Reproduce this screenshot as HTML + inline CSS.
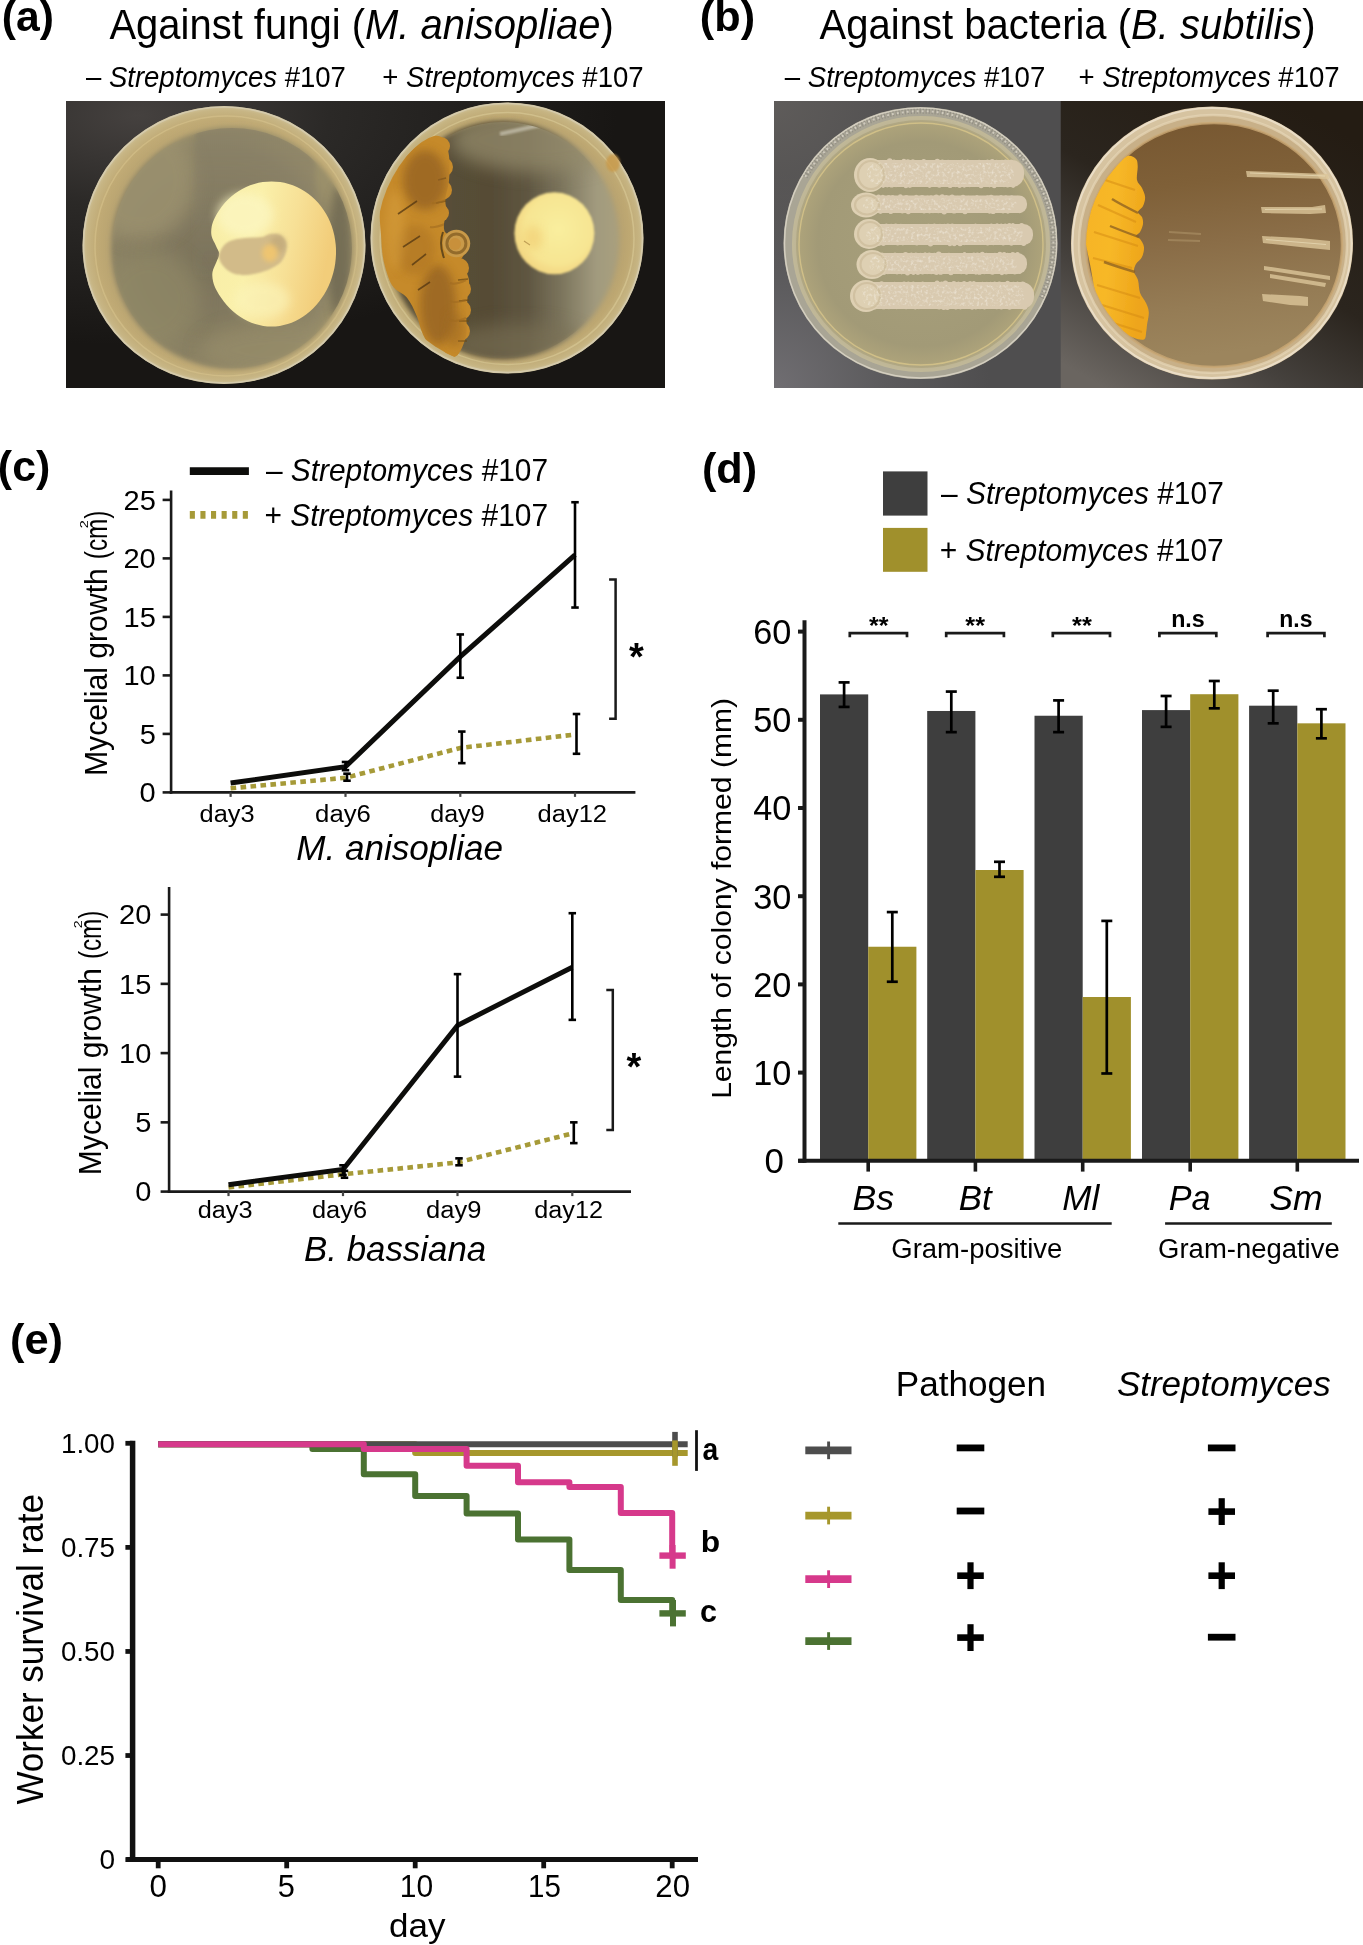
<!DOCTYPE html>
<html><head><meta charset="utf-8"><title>Figure</title>
<style>
html,body{margin:0;padding:0;background:#fff;}
body{width:1363px;height:1945px;overflow:hidden;}
svg{display:block;font-family:"Liberation Sans", sans-serif;will-change:transform;}
</style></head><body>
<svg width="1363" height="1945" viewBox="0 0 1363 1945">
<rect x="0" y="0" width="1363" height="1945" fill="#ffffff"/>
<defs>
<filter id="b05" x="-20%" y="-20%" width="140%" height="140%"><feGaussianBlur stdDeviation="0.6"/></filter>
<filter id="b1" x="-20%" y="-20%" width="140%" height="140%"><feGaussianBlur stdDeviation="1.2"/></filter>
<filter id="b2" x="-20%" y="-20%" width="140%" height="140%"><feGaussianBlur stdDeviation="2.5"/></filter>
<filter id="b4" x="-30%" y="-30%" width="160%" height="160%"><feGaussianBlur stdDeviation="5"/></filter>
<filter id="b8" x="-40%" y="-40%" width="180%" height="180%"><feGaussianBlur stdDeviation="9"/></filter>
<filter id="grain" x="0" y="0" width="100%" height="100%">
  <feTurbulence type="fractalNoise" baseFrequency="0.35" numOctaves="2" seed="3" result="n"/>
  <feColorMatrix in="n" type="matrix" values="0 0 0 0 0.97  0 0 0 0 0.95  0 0 0 0 0.9  0 0 0 2.2 -1.05" result="c"/>
  <feComposite in="c" in2="SourceGraphic" operator="in"/>
</filter>
<radialGradient id="bgA" cx="0.12" cy="0.05" r="0.8">
  <stop offset="0" stop-color="#45413f"/><stop offset="0.4" stop-color="#2b2927"/><stop offset="1" stop-color="#181614"/>
</radialGradient>
<radialGradient id="agarA1" cx="0.42" cy="0.55" r="0.55">
  <stop offset="0" stop-color="#7a725a"/><stop offset="0.5" stop-color="#847b60"/><stop offset="0.85" stop-color="#8d8466"/><stop offset="1" stop-color="#9a8f6a"/>
</radialGradient>
<linearGradient id="agarA2" x1="0" y1="0" x2="1" y2="0">
  <stop offset="0" stop-color="#5a5038"/><stop offset="0.45" stop-color="#564c36"/><stop offset="0.6" stop-color="#5e5540"/><stop offset="0.75" stop-color="#7b745c"/><stop offset="0.9" stop-color="#a19a7e"/><stop offset="1" stop-color="#a9a07e"/>
</linearGradient>
<linearGradient id="colA" x1="0" y1="0" x2="1" y2="0.25">
  <stop offset="0" stop-color="#f8eda6"/><stop offset="0.4" stop-color="#faf0aa"/><stop offset="0.7" stop-color="#f7e096"/><stop offset="1" stop-color="#f2cd7a"/>
</linearGradient>
<radialGradient id="colA2" cx="0.55" cy="0.45" r="0.6">
  <stop offset="0" stop-color="#f9ee9e"/><stop offset="0.7" stop-color="#f7e592"/><stop offset="1" stop-color="#f1d37e"/>
</radialGradient>
<linearGradient id="orA" x1="0" y1="0" x2="1" y2="0">
  <stop offset="0" stop-color="#b98528"/><stop offset="0.45" stop-color="#956219"/><stop offset="0.75" stop-color="#a8721f"/><stop offset="1" stop-color="#bb8a30"/>
</linearGradient>
<radialGradient id="bgB1" cx="0.0" cy="1.0" r="0.75">
  <stop offset="0" stop-color="#706e72"/><stop offset="0.5" stop-color="#5c5b5d"/><stop offset="1" stop-color="#4f4e4f"/>
</radialGradient>
<radialGradient id="bgB1b" cx="0.0" cy="0.0" r="0.6">
  <stop offset="0" stop-color="#605d5b" stop-opacity="0.9"/><stop offset="1" stop-color="#605d5b" stop-opacity="0"/>
</radialGradient>
<radialGradient id="agarB1" cx="0.5" cy="0.5" r="0.5">
  <stop offset="0" stop-color="#a8a07c"/><stop offset="0.8" stop-color="#a29a77"/><stop offset="0.93" stop-color="#aca27a"/><stop offset="1" stop-color="#b5ad8e"/>
</radialGradient>
<linearGradient id="agarB2" x1="0" y1="0" x2="0.15" y2="1">
  <stop offset="0" stop-color="#765630"/><stop offset="0.3" stop-color="#7f6038"/><stop offset="0.55" stop-color="#8a6d47"/><stop offset="0.8" stop-color="#957c55"/><stop offset="1" stop-color="#9c855d"/>
</linearGradient>
<linearGradient id="bgB2" x1="0.75" y1="0" x2="0.15" y2="1">
  <stop offset="0" stop-color="#241c13"/><stop offset="0.45" stop-color="#2b251e"/><stop offset="0.72" stop-color="#45413d"/><stop offset="1" stop-color="#6a6560"/>
</linearGradient>
<linearGradient id="orB" x1="0" y1="0" x2="1" y2="0.3">
  <stop offset="0" stop-color="#f6b323"/><stop offset="0.5" stop-color="#f7b828"/><stop offset="1" stop-color="#eea51a"/>
</linearGradient>
<radialGradient id="rimA" cx="0.5" cy="0.5" r="0.5"><stop offset="0.75" stop-color="#b4a070"/><stop offset="0.9" stop-color="#c0aa74"/><stop offset="0.97" stop-color="#c7b584"/><stop offset="1" stop-color="#cfc29a"/></radialGradient>
<radialGradient id="rimA2" cx="0.5" cy="0.5" r="0.5"><stop offset="0.75" stop-color="#b09c6e"/><stop offset="0.9" stop-color="#bea872"/><stop offset="0.97" stop-color="#c6b482"/><stop offset="1" stop-color="#cfc29a"/></radialGradient>
<linearGradient id="fadeA" x1="0" y1="0" x2="0" y2="1"><stop offset="0" stop-color="#857d66" stop-opacity="0.7"/><stop offset="0.5" stop-color="#857d66" stop-opacity="0.35"/><stop offset="1" stop-color="#857d66" stop-opacity="0"/></linearGradient>
<clipPath id="clipA"><rect x="66" y="101" width="599" height="287"/></clipPath>
<clipPath id="clipB1"><rect x="774" y="101" width="288" height="287"/></clipPath>
<clipPath id="clipB2"><rect x="1060.5" y="101" width="302.5" height="287"/></clipPath>
<clipPath id="dishA2"><ellipse cx="508" cy="238.5" rx="131" ry="130"/></clipPath>
<clipPath id="dishA1in"><ellipse cx="232" cy="248" rx="120" ry="120"/></clipPath>
<clipPath id="dishA2in"><ellipse cx="503" cy="240" rx="115" ry="118"/></clipPath>
<clipPath id="dishB2"><ellipse cx="1214" cy="245" rx="128" ry="122"/></clipPath>
</defs>
<g clip-path="url(#clipA)">
<rect x="66.00" y="101.00" width="599.00" height="287.50" fill="url(#bgA)"/>
<ellipse cx="224" cy="245" rx="141.5" ry="139" fill="url(#rimA)" filter="url(#b05)"/>
<ellipse cx="224" cy="245" rx="140.5" ry="138" fill="none" stroke="#d6cdb0" stroke-width="1.6" opacity="0.85"/>
<ellipse cx="226" cy="246" rx="131" ry="130" fill="none" stroke="#d9c58e" stroke-width="1.5" opacity="0.55"/>
<ellipse cx="232" cy="248" rx="121" ry="121" fill="url(#agarA1)" filter="url(#b2)"/>
<g clip-path="url(#dishA1in)">
<ellipse cx="140" cy="180" rx="55" ry="60" fill="#9c9270" opacity="0.8" filter="url(#b8)"/>
<ellipse cx="150" cy="300" rx="50" ry="50" fill="#928a68" opacity="0.6" filter="url(#b8)"/>
<rect x="195" y="110" width="120" height="170" fill="url(#fadeA)" filter="url(#b2)"/>
<ellipse cx="280" cy="350" rx="80" ry="28" fill="#978d6b" opacity="0.7" filter="url(#b8)"/>
<ellipse cx="340" cy="255" rx="12" ry="70" fill="#5f5a48" opacity="0.6" filter="url(#b4)"/>
</g>
<path d="M 336.0 254.0 C 335.9 257.2 335.6 260.3 335.2 263.5 C 334.8 266.6 334.1 269.7 333.3 272.8 C 332.5 275.8 331.5 278.8 330.4 281.7 C 329.3 284.7 328.0 287.5 326.5 290.2 C 325.1 293.0 323.5 295.6 321.7 298.1 C 320.0 300.6 318.1 303.0 316.1 305.3 C 314.2 307.5 312.0 309.6 309.8 311.5 C 307.6 313.4 305.3 315.2 302.9 316.8 C 300.5 318.4 298.0 319.8 295.5 321.0 C 293.0 322.2 290.3 323.2 287.7 324.0 C 285.1 324.8 282.4 325.5 279.7 325.9 C 277.0 326.3 274.2 326.5 271.5 326.5 C 268.8 326.5 266.0 326.3 263.3 325.9 C 260.6 325.5 257.9 324.8 255.3 324.0 C 252.7 323.2 250.0 322.2 247.5 321.0 C 245.0 319.8 242.5 318.4 240.1 316.8 C 237.7 315.2 235.4 313.4 233.2 311.5 C 231.0 309.6 228.8 307.5 226.9 305.3 C 224.9 303.0 223.0 300.6 221.3 298.1 C 219.5 295.6 217.9 293.0 216.5 290.2 C 215.1 287.5 213.7 284.6 213.1 281.5 C 212.4 278.5 212.0 275.1 212.5 271.9 C 213.1 268.7 215.2 265.2 216.3 262.2 C 217.4 259.2 219.3 256.7 219.3 254.0 C 219.2 251.3 217.1 248.8 215.9 245.8 C 214.6 242.8 212.3 239.3 211.6 236.1 C 210.9 232.9 211.2 229.5 211.7 226.5 C 212.2 223.4 213.6 220.5 214.8 217.8 C 216.1 215.0 217.7 212.4 219.4 209.9 C 221.1 207.4 222.9 205.0 224.9 202.7 C 226.9 200.5 229.1 198.4 231.3 196.5 C 233.5 194.6 235.9 192.8 238.4 191.2 C 240.9 189.6 243.5 188.2 246.1 187.0 C 248.8 185.8 251.5 184.8 254.3 184.0 C 257.1 183.2 260.0 182.5 262.8 182.1 C 265.7 181.7 268.6 181.5 271.5 181.5 C 274.4 181.5 277.3 181.7 280.2 182.1 C 283.0 182.5 285.9 183.2 288.7 184.0 C 291.5 184.8 294.2 185.8 296.9 187.0 C 299.5 188.2 302.1 189.6 304.6 191.2 C 307.1 192.8 309.5 194.6 311.7 196.5 C 313.9 198.4 316.1 200.5 318.1 202.7 C 320.1 205.0 321.9 207.4 323.6 209.9 C 325.3 212.4 326.8 215.0 328.2 217.7 C 329.6 220.5 330.8 223.3 331.8 226.3 C 332.8 229.2 333.6 232.2 334.3 235.2 C 334.9 238.3 335.4 241.4 335.7 244.5 C 336.0 247.7 336.1 250.8 336.0 254.0 Z" fill="url(#colA)" filter="url(#b05)"/>
<ellipse cx="245" cy="215" rx="28" ry="22" fill="#fcf7c4" opacity="0.7" filter="url(#b4)"/>
<ellipse cx="262" cy="300" rx="28" ry="18" fill="#fbf4bb" opacity="0.6" filter="url(#b4)"/>
<path d="M 219.0 258.0 C 218.5 254.7 220.2 250.8 222.0 248.0 C 223.8 245.2 226.2 242.7 230.0 241.0 C 233.8 239.3 239.7 238.7 245.0 238.0 C 250.3 237.3 257.8 237.7 262.0 237.0 C 266.2 236.3 267.0 234.3 270.0 234.0 C 273.0 233.7 277.3 233.7 280.0 235.0 C 282.7 236.3 285.0 239.2 286.0 242.0 C 287.0 244.8 286.8 248.7 286.0 252.0 C 285.2 255.3 283.3 259.3 281.0 262.0 C 278.7 264.7 275.2 266.3 272.0 268.0 C 268.8 269.7 266.0 270.8 262.0 272.0 C 258.0 273.2 252.5 274.7 248.0 275.0 C 243.5 275.3 238.8 275.2 235.0 274.0 C 231.2 272.8 227.7 270.7 225.0 268.0 C 222.3 265.3 219.5 261.3 219.0 258.0 Z" fill="#d2bb89" filter="url(#b1)"/>
<ellipse cx="278" cy="244" rx="8" ry="9" fill="#c0a878" opacity="0.7" filter="url(#b2)"/>
<ellipse cx="270" cy="253" rx="8" ry="9" fill="#f2c66e" opacity="0.9" filter="url(#b2)"/>
<ellipse cx="507" cy="238" rx="136.5" ry="135.5" fill="url(#rimA2)" filter="url(#b05)"/>
<ellipse cx="507" cy="238" rx="135.5" ry="134.5" fill="none" stroke="#d6cdb0" stroke-width="1.6" opacity="0.85"/>
<ellipse cx="507" cy="238.5" rx="127" ry="126" fill="none" stroke="#dccd9a" stroke-width="1.5" opacity="0.55"/>
<ellipse cx="503" cy="240" rx="116" ry="119" fill="url(#agarA2)" filter="url(#b2)"/>
<g clip-path="url(#dishA2in)">
<ellipse cx="540" cy="140" rx="90" ry="32" fill="#948b6c" opacity="0.75" filter="url(#b8)"/>
<ellipse cx="520" cy="345" rx="70" ry="22" fill="#7c7256" opacity="0.6" filter="url(#b8)"/>
<path d="M 500 134 L 545 124" stroke="#d8d4c4" stroke-width="4" opacity="0.6" filter="url(#b1)"/>
</g>
<ellipse cx="613" cy="163" rx="7" ry="9" fill="#c99a48" opacity="0.8" filter="url(#b1)"/>
<g clip-path="url(#dishA2)">
<path d="M 434.2 136.1 C 438.5 135.2 441.5 136.5 444.0 139.8 C 446.5 143.1 448.2 149.0 449.0 155.8 C 449.8 162.6 449.6 173.3 449.0 180.5 C 448.4 187.7 445.7 193.8 445.3 199.0 C 444.9 204.2 446.7 207.3 446.5 211.4 C 446.3 215.5 444.2 220.3 444.0 223.7 C 443.8 227.1 443.7 229.9 445.0 232.0 C 446.3 234.1 449.2 234.7 452.0 236.0 C 454.8 237.3 459.7 237.7 462.0 240.0 C 464.3 242.3 466.0 247.0 466.0 250.0 C 466.0 253.0 462.8 256.2 462.0 258.0 C 461.2 259.8 460.3 257.2 461.4 260.7 C 462.5 264.2 467.8 273.0 468.8 279.2 C 469.8 285.4 467.9 291.5 467.5 297.7 C 467.1 303.9 466.5 310.0 466.3 316.2 C 466.1 322.4 467.5 328.5 466.3 334.7 C 465.1 340.9 461.6 349.5 458.9 353.2 C 456.2 356.9 454.3 357.4 450.2 357.0 C 446.1 356.6 438.7 354.5 434.2 350.8 C 429.7 347.1 426.0 340.5 423.1 334.7 C 420.2 328.9 419.6 322.4 416.9 316.2 C 414.2 310.0 411.1 302.8 407.0 297.7 C 402.9 292.6 396.1 291.6 392.2 285.4 C 388.3 279.2 385.5 268.9 383.6 260.7 C 381.8 252.5 381.7 244.2 381.1 236.0 C 380.5 227.8 379.3 219.6 379.9 211.4 C 380.5 203.2 381.3 194.9 384.8 186.7 C 388.3 178.5 395.4 168.9 400.9 162.0 C 406.4 155.1 412.4 149.3 418.0 145.0 C 423.6 140.7 429.9 137.0 434.2 136.1 Z" fill="#c68a2b" filter="url(#b05)"/>
<circle cx="441" cy="146" r="9" fill="#c68a2b" filter="url(#b05)"/>
<circle cx="443" cy="167" r="10" fill="#c68a2b" filter="url(#b05)"/>
<circle cx="442" cy="190" r="10" fill="#c68a2b" filter="url(#b05)"/>
<circle cx="440" cy="213" r="9" fill="#c68a2b" filter="url(#b05)"/>
<circle cx="459" cy="268" r="10" fill="#c68a2b" filter="url(#b05)"/>
<circle cx="461" cy="289" r="10" fill="#c68a2b" filter="url(#b05)"/>
<circle cx="461" cy="310" r="10" fill="#c68a2b" filter="url(#b05)"/>
<circle cx="460" cy="331" r="10" fill="#c68a2b" filter="url(#b05)"/>
<circle cx="452" cy="349" r="8" fill="#c68a2b" filter="url(#b05)"/>
<path d="M 446 178 L 438 180 M 446 201 L 436 203 M 468 279 L 458 280 M 469 300 L 459 301 M 469 321 L 459 321 M 467 341 L 458 341" stroke="#6a4814" stroke-width="1.6" fill="none" opacity="0.7"/>
<clipPath id="orclip"><path d="M 434.2 136.1 C 438.5 135.2 441.5 136.5 444.0 139.8 C 446.5 143.1 448.2 149.0 449.0 155.8 C 449.8 162.6 449.6 173.3 449.0 180.5 C 448.4 187.7 445.7 193.8 445.3 199.0 C 444.9 204.2 446.7 207.3 446.5 211.4 C 446.3 215.5 444.2 220.3 444.0 223.7 C 443.8 227.1 443.7 229.9 445.0 232.0 C 446.3 234.1 449.2 234.7 452.0 236.0 C 454.8 237.3 459.7 237.7 462.0 240.0 C 464.3 242.3 466.0 247.0 466.0 250.0 C 466.0 253.0 462.8 256.2 462.0 258.0 C 461.2 259.8 460.3 257.2 461.4 260.7 C 462.5 264.2 467.8 273.0 468.8 279.2 C 469.8 285.4 467.9 291.5 467.5 297.7 C 467.1 303.9 466.5 310.0 466.3 316.2 C 466.1 322.4 467.5 328.5 466.3 334.7 C 465.1 340.9 461.6 349.5 458.9 353.2 C 456.2 356.9 454.3 357.4 450.2 357.0 C 446.1 356.6 438.7 354.5 434.2 350.8 C 429.7 347.1 426.0 340.5 423.1 334.7 C 420.2 328.9 419.6 322.4 416.9 316.2 C 414.2 310.0 411.1 302.8 407.0 297.7 C 402.9 292.6 396.1 291.6 392.2 285.4 C 388.3 279.2 385.5 268.9 383.6 260.7 C 381.8 252.5 381.7 244.2 381.1 236.0 C 380.5 227.8 379.3 219.6 379.9 211.4 C 380.5 203.2 381.3 194.9 384.8 186.7 C 388.3 178.5 395.4 168.9 400.9 162.0 C 406.4 155.1 412.4 149.3 418.0 145.0 C 423.6 140.7 429.9 137.0 434.2 136.1 Z"/></clipPath>
<g clip-path="url(#orclip)">
<ellipse cx="425" cy="180" rx="22" ry="30" fill="#8f5d22" opacity="0.70" filter="url(#b4)"/>
<ellipse cx="438" cy="305" rx="18" ry="40" fill="#8a5a20" opacity="0.65" filter="url(#b4)"/>
<ellipse cx="415" cy="250" rx="20" ry="25" fill="#a87024" opacity="0.50" filter="url(#b4)"/>
<ellipse cx="395" cy="230" rx="10" ry="40" fill="#d8a040" opacity="0.50" filter="url(#b4)"/>
<ellipse cx="455" cy="330" rx="10" ry="18" fill="#9a6624" opacity="0.50" filter="url(#b4)"/>
<path d="M 398 214 L 417 201 M 403 247 L 420 236 M 412 265 L 426 254 M 418 290 L 430 282" stroke="#4a3010" stroke-width="1.6" fill="none" opacity="0.7"/>
<path d="M 446 200 C 440 202 436 204 432 203 M 445 224 C 440 226 435 228 430 227 M 466 280 C 460 283 455 285 450 283 M 466 300 C 460 302 455 303 450 301 M 466 318 C 460 321 455 322 450 320" stroke="#a06a20" stroke-width="2" fill="none" opacity="0.6"/>
</g>
</g>
<circle cx="456.4" cy="243.5" r="13.8" fill="#c99a48" filter="url(#b05)"/>
<circle cx="456.4" cy="243.5" r="9.5" fill="none" stroke="#8a6428" stroke-width="3" opacity="0.85" filter="url(#b05)"/>
<circle cx="455" cy="244" r="6" fill="#c8903a" filter="url(#b05)"/>
<path d="M 443 232 C 440 240 441 250 444 258" stroke="#4e3a18" stroke-width="2" fill="none" opacity="0.8"/>
<ellipse cx="554.4" cy="233.3" rx="40" ry="41" fill="url(#colA2)" filter="url(#b1)"/>
<path d="M 524 241 L 530 245" stroke="#8a6a30" stroke-width="1.2" opacity="0.7"/>
<ellipse cx="533" cy="238" rx="10" ry="12" fill="#f0c86c" opacity="0.5" filter="url(#b4)"/>
</g>
<g clip-path="url(#clipB1)">
<rect x="774.00" y="101.00" width="288.00" height="287.50" fill="url(#bgB1)"/>
<rect x="774.00" y="101.00" width="288.00" height="287.50" fill="url(#bgB1b)"/>
<ellipse cx="920.5" cy="243" rx="137" ry="136" fill="#a9a595" filter="url(#b05)"/>
<ellipse cx="920.5" cy="243" rx="136" ry="135" fill="none" stroke="#d8d3c4" stroke-width="1.5" opacity="0.9"/>
<path d="M 805.3 177 A 133 132 0 0 1 1041 298.8" fill="none" stroke="#8e8b82" stroke-width="5" stroke-dasharray="1.2 1.8" opacity="0.8"/>
<path d="M 805.3 177 A 133 132 0 0 1 1041 298.8" fill="none" stroke="#e2ddd0" stroke-width="2" stroke-dasharray="2 3" opacity="0.7"/>
<ellipse cx="921" cy="244" rx="129" ry="128" fill="url(#agarB1)"/>
<ellipse cx="921" cy="244" rx="122" ry="121" fill="none" stroke="#d8c689" stroke-width="1.4" opacity="0.8"/>
<ellipse cx="921" cy="244" rx="127" ry="126" fill="none" stroke="#c8c0a0" stroke-width="4" opacity="0.6"/>
<g filter="url(#b05)"><rect x="861.0" y="160.0" width="163.0" height="27.0" rx="12.3" fill="#d9cab0"/><circle cx="869.0" cy="161.2" r="2.0" fill="#d9cab0"/><circle cx="871.0" cy="185.0" r="2.0" fill="#d9cab0"/><circle cx="872.7" cy="161.5" r="2.2" fill="#d9cab0"/><circle cx="874.7" cy="185.9" r="2.2" fill="#d9cab0"/><circle cx="877.4" cy="161.7" r="1.6" fill="#d9cab0"/><circle cx="879.4" cy="185.9" r="1.6" fill="#d9cab0"/><circle cx="881.2" cy="162.2" r="2.1" fill="#d9cab0"/><circle cx="883.2" cy="185.8" r="2.1" fill="#d9cab0"/><circle cx="885.2" cy="162.4" r="2.4" fill="#d9cab0"/><circle cx="887.2" cy="185.1" r="2.4" fill="#d9cab0"/><circle cx="889.7" cy="161.1" r="2.8" fill="#d9cab0"/><circle cx="891.7" cy="184.7" r="2.8" fill="#d9cab0"/><circle cx="894.0" cy="161.2" r="1.8" fill="#d9cab0"/><circle cx="896.0" cy="185.5" r="1.8" fill="#d9cab0"/><circle cx="899.5" cy="161.9" r="1.8" fill="#d9cab0"/><circle cx="901.5" cy="185.0" r="1.8" fill="#d9cab0"/><circle cx="903.9" cy="161.1" r="2.3" fill="#d9cab0"/><circle cx="905.9" cy="185.9" r="2.3" fill="#d9cab0"/><circle cx="907.9" cy="161.6" r="2.4" fill="#d9cab0"/><circle cx="909.9" cy="185.5" r="2.4" fill="#d9cab0"/><circle cx="912.9" cy="161.4" r="2.1" fill="#d9cab0"/><circle cx="914.9" cy="184.8" r="2.1" fill="#d9cab0"/><circle cx="918.1" cy="161.9" r="1.9" fill="#d9cab0"/><circle cx="920.1" cy="185.2" r="1.9" fill="#d9cab0"/><circle cx="923.8" cy="161.4" r="2.5" fill="#d9cab0"/><circle cx="925.8" cy="184.5" r="2.5" fill="#d9cab0"/><circle cx="927.6" cy="162.1" r="2.1" fill="#d9cab0"/><circle cx="929.6" cy="185.8" r="2.1" fill="#d9cab0"/><circle cx="932.4" cy="162.0" r="1.6" fill="#d9cab0"/><circle cx="934.4" cy="184.9" r="1.6" fill="#d9cab0"/><circle cx="937.3" cy="161.5" r="2.7" fill="#d9cab0"/><circle cx="939.3" cy="185.0" r="2.7" fill="#d9cab0"/><circle cx="942.3" cy="161.7" r="2.3" fill="#d9cab0"/><circle cx="944.3" cy="184.7" r="2.3" fill="#d9cab0"/><circle cx="948.1" cy="162.0" r="2.2" fill="#d9cab0"/><circle cx="950.1" cy="185.9" r="2.2" fill="#d9cab0"/><circle cx="953.4" cy="162.5" r="2.4" fill="#d9cab0"/><circle cx="955.4" cy="184.8" r="2.4" fill="#d9cab0"/><circle cx="957.6" cy="162.0" r="2.1" fill="#d9cab0"/><circle cx="959.6" cy="186.0" r="2.1" fill="#d9cab0"/><circle cx="962.3" cy="161.2" r="1.8" fill="#d9cab0"/><circle cx="964.3" cy="185.9" r="1.8" fill="#d9cab0"/><circle cx="967.7" cy="161.4" r="1.8" fill="#d9cab0"/><circle cx="969.7" cy="185.4" r="1.8" fill="#d9cab0"/><circle cx="973.4" cy="161.7" r="1.7" fill="#d9cab0"/><circle cx="975.4" cy="185.2" r="1.7" fill="#d9cab0"/><circle cx="979.1" cy="162.3" r="2.6" fill="#d9cab0"/><circle cx="981.1" cy="185.6" r="2.6" fill="#d9cab0"/><circle cx="983.6" cy="162.3" r="2.0" fill="#d9cab0"/><circle cx="985.6" cy="184.6" r="2.0" fill="#d9cab0"/><circle cx="987.5" cy="161.3" r="1.8" fill="#d9cab0"/><circle cx="989.5" cy="185.6" r="1.8" fill="#d9cab0"/><circle cx="992.2" cy="161.4" r="2.3" fill="#d9cab0"/><circle cx="994.2" cy="186.0" r="2.3" fill="#d9cab0"/><circle cx="996.7" cy="161.8" r="2.0" fill="#d9cab0"/><circle cx="998.7" cy="184.6" r="2.0" fill="#d9cab0"/><circle cx="1002.0" cy="161.9" r="2.2" fill="#d9cab0"/><circle cx="1004.0" cy="185.0" r="2.2" fill="#d9cab0"/><circle cx="1005.6" cy="162.2" r="2.7" fill="#d9cab0"/><circle cx="1007.6" cy="184.7" r="2.7" fill="#d9cab0"/><circle cx="1011.1" cy="161.6" r="2.1" fill="#d9cab0"/><circle cx="1013.1" cy="185.8" r="2.1" fill="#d9cab0"/><ellipse cx="870.0" cy="175.0" rx="16.0" ry="17.0" fill="#ded0b3"/><ellipse cx="871.0" cy="175.0" rx="13.0" ry="14.0" fill="none" stroke="#cdbd9c" stroke-width="2.2" opacity="0.8"/></g>
<rect x="867.0" y="163.0" width="147.0" height="21.0" rx="9.5" fill="#fff" filter="url(#grain)" opacity="0.55"/>
<g filter="url(#b05)"><rect x="857.0" y="195.5" width="170.0" height="17.5" rx="8.0" fill="#d9cab0"/><circle cx="865.0" cy="196.6" r="1.7" fill="#d9cab0"/><circle cx="867.0" cy="211.7" r="1.7" fill="#d9cab0"/><circle cx="868.9" cy="196.6" r="2.0" fill="#d9cab0"/><circle cx="870.9" cy="212.0" r="2.0" fill="#d9cab0"/><circle cx="872.8" cy="197.0" r="1.7" fill="#d9cab0"/><circle cx="874.8" cy="212.0" r="1.7" fill="#d9cab0"/><circle cx="878.5" cy="196.7" r="2.3" fill="#d9cab0"/><circle cx="880.5" cy="211.6" r="2.3" fill="#d9cab0"/><circle cx="882.8" cy="196.7" r="2.0" fill="#d9cab0"/><circle cx="884.8" cy="210.7" r="2.0" fill="#d9cab0"/><circle cx="888.8" cy="197.2" r="2.2" fill="#d9cab0"/><circle cx="890.8" cy="211.9" r="2.2" fill="#d9cab0"/><circle cx="892.6" cy="196.9" r="2.0" fill="#d9cab0"/><circle cx="894.6" cy="210.8" r="2.0" fill="#d9cab0"/><circle cx="896.5" cy="197.9" r="1.6" fill="#d9cab0"/><circle cx="898.5" cy="211.2" r="1.6" fill="#d9cab0"/><circle cx="900.3" cy="196.5" r="2.3" fill="#d9cab0"/><circle cx="902.3" cy="211.2" r="2.3" fill="#d9cab0"/><circle cx="906.3" cy="197.5" r="2.6" fill="#d9cab0"/><circle cx="908.3" cy="211.6" r="2.6" fill="#d9cab0"/><circle cx="910.7" cy="197.7" r="1.8" fill="#d9cab0"/><circle cx="912.7" cy="211.2" r="1.8" fill="#d9cab0"/><circle cx="916.2" cy="196.8" r="2.0" fill="#d9cab0"/><circle cx="918.2" cy="210.8" r="2.0" fill="#d9cab0"/><circle cx="922.1" cy="197.7" r="2.6" fill="#d9cab0"/><circle cx="924.1" cy="210.8" r="2.6" fill="#d9cab0"/><circle cx="927.5" cy="197.3" r="1.9" fill="#d9cab0"/><circle cx="929.5" cy="211.5" r="1.9" fill="#d9cab0"/><circle cx="931.0" cy="196.9" r="1.6" fill="#d9cab0"/><circle cx="933.0" cy="211.6" r="1.6" fill="#d9cab0"/><circle cx="936.3" cy="197.2" r="2.7" fill="#d9cab0"/><circle cx="938.3" cy="210.6" r="2.7" fill="#d9cab0"/><circle cx="942.2" cy="197.0" r="2.7" fill="#d9cab0"/><circle cx="944.2" cy="211.7" r="2.7" fill="#d9cab0"/><circle cx="946.3" cy="196.8" r="1.8" fill="#d9cab0"/><circle cx="948.3" cy="211.1" r="1.8" fill="#d9cab0"/><circle cx="952.1" cy="197.2" r="2.6" fill="#d9cab0"/><circle cx="954.1" cy="211.0" r="2.6" fill="#d9cab0"/><circle cx="957.6" cy="197.5" r="1.7" fill="#d9cab0"/><circle cx="959.6" cy="210.6" r="1.7" fill="#d9cab0"/><circle cx="963.0" cy="197.2" r="2.5" fill="#d9cab0"/><circle cx="965.0" cy="211.7" r="2.5" fill="#d9cab0"/><circle cx="968.5" cy="197.7" r="2.0" fill="#d9cab0"/><circle cx="970.5" cy="210.5" r="2.0" fill="#d9cab0"/><circle cx="973.0" cy="197.9" r="2.1" fill="#d9cab0"/><circle cx="975.0" cy="210.9" r="2.1" fill="#d9cab0"/><circle cx="976.9" cy="196.7" r="1.8" fill="#d9cab0"/><circle cx="978.9" cy="210.6" r="1.8" fill="#d9cab0"/><circle cx="982.4" cy="197.7" r="1.8" fill="#d9cab0"/><circle cx="984.4" cy="210.5" r="1.8" fill="#d9cab0"/><circle cx="987.6" cy="197.3" r="2.0" fill="#d9cab0"/><circle cx="989.6" cy="211.8" r="2.0" fill="#d9cab0"/><circle cx="991.1" cy="197.5" r="2.8" fill="#d9cab0"/><circle cx="993.1" cy="211.2" r="2.8" fill="#d9cab0"/><circle cx="996.9" cy="197.8" r="2.1" fill="#d9cab0"/><circle cx="998.9" cy="210.8" r="2.1" fill="#d9cab0"/><circle cx="1001.0" cy="196.9" r="1.9" fill="#d9cab0"/><circle cx="1003.0" cy="211.6" r="1.9" fill="#d9cab0"/><circle cx="1005.9" cy="197.1" r="1.9" fill="#d9cab0"/><circle cx="1007.9" cy="211.8" r="1.9" fill="#d9cab0"/><circle cx="1011.7" cy="197.2" r="2.0" fill="#d9cab0"/><circle cx="1013.7" cy="211.1" r="2.0" fill="#d9cab0"/><circle cx="1017.5" cy="197.9" r="2.1" fill="#d9cab0"/><circle cx="1019.5" cy="211.2" r="2.1" fill="#d9cab0"/><ellipse cx="866.0" cy="205.0" rx="15.0" ry="12.5" fill="#ded0b3"/><ellipse cx="867.0" cy="205.0" rx="12.0" ry="9.5" fill="none" stroke="#cdbd9c" stroke-width="2.2" opacity="0.8"/></g>
<rect x="863.0" y="198.5" width="154.0" height="11.5" rx="5.2" fill="#fff" filter="url(#grain)" opacity="0.55"/>
<g filter="url(#b05)"><rect x="860.0" y="224.0" width="173.0" height="21.0" rx="9.5" fill="#d9cab0"/><circle cx="868.0" cy="225.0" r="2.2" fill="#d9cab0"/><circle cx="870.0" cy="243.3" r="2.2" fill="#d9cab0"/><circle cx="872.0" cy="226.2" r="1.6" fill="#d9cab0"/><circle cx="874.0" cy="243.7" r="1.6" fill="#d9cab0"/><circle cx="876.6" cy="225.8" r="2.5" fill="#d9cab0"/><circle cx="878.6" cy="243.5" r="2.5" fill="#d9cab0"/><circle cx="881.4" cy="226.2" r="2.3" fill="#d9cab0"/><circle cx="883.4" cy="243.8" r="2.3" fill="#d9cab0"/><circle cx="886.3" cy="225.4" r="1.9" fill="#d9cab0"/><circle cx="888.3" cy="242.8" r="1.9" fill="#d9cab0"/><circle cx="891.1" cy="226.1" r="2.3" fill="#d9cab0"/><circle cx="893.1" cy="242.6" r="2.3" fill="#d9cab0"/><circle cx="895.7" cy="225.8" r="2.3" fill="#d9cab0"/><circle cx="897.7" cy="243.2" r="2.3" fill="#d9cab0"/><circle cx="900.9" cy="225.8" r="2.1" fill="#d9cab0"/><circle cx="902.9" cy="243.3" r="2.1" fill="#d9cab0"/><circle cx="906.8" cy="226.3" r="2.4" fill="#d9cab0"/><circle cx="908.8" cy="242.6" r="2.4" fill="#d9cab0"/><circle cx="911.0" cy="226.4" r="2.3" fill="#d9cab0"/><circle cx="913.0" cy="242.7" r="2.3" fill="#d9cab0"/><circle cx="914.8" cy="225.7" r="1.7" fill="#d9cab0"/><circle cx="916.8" cy="243.9" r="1.7" fill="#d9cab0"/><circle cx="918.9" cy="226.0" r="1.7" fill="#d9cab0"/><circle cx="920.9" cy="242.8" r="1.7" fill="#d9cab0"/><circle cx="924.6" cy="226.1" r="1.8" fill="#d9cab0"/><circle cx="926.6" cy="243.0" r="1.8" fill="#d9cab0"/><circle cx="928.5" cy="226.5" r="2.7" fill="#d9cab0"/><circle cx="930.5" cy="243.7" r="2.7" fill="#d9cab0"/><circle cx="934.4" cy="225.7" r="2.1" fill="#d9cab0"/><circle cx="936.4" cy="242.5" r="2.1" fill="#d9cab0"/><circle cx="940.0" cy="225.6" r="1.8" fill="#d9cab0"/><circle cx="942.0" cy="243.2" r="1.8" fill="#d9cab0"/><circle cx="944.3" cy="225.5" r="1.8" fill="#d9cab0"/><circle cx="946.3" cy="242.9" r="1.8" fill="#d9cab0"/><circle cx="947.9" cy="225.7" r="2.3" fill="#d9cab0"/><circle cx="949.9" cy="244.0" r="2.3" fill="#d9cab0"/><circle cx="952.2" cy="225.8" r="2.3" fill="#d9cab0"/><circle cx="954.2" cy="243.9" r="2.3" fill="#d9cab0"/><circle cx="958.1" cy="226.5" r="2.5" fill="#d9cab0"/><circle cx="960.1" cy="243.8" r="2.5" fill="#d9cab0"/><circle cx="962.3" cy="226.2" r="1.6" fill="#d9cab0"/><circle cx="964.3" cy="243.6" r="1.6" fill="#d9cab0"/><circle cx="966.1" cy="226.4" r="2.1" fill="#d9cab0"/><circle cx="968.1" cy="242.8" r="2.1" fill="#d9cab0"/><circle cx="970.3" cy="226.4" r="1.8" fill="#d9cab0"/><circle cx="972.3" cy="243.1" r="1.8" fill="#d9cab0"/><circle cx="975.5" cy="225.1" r="1.7" fill="#d9cab0"/><circle cx="977.5" cy="243.0" r="1.7" fill="#d9cab0"/><circle cx="980.1" cy="226.4" r="1.7" fill="#d9cab0"/><circle cx="982.1" cy="243.0" r="1.7" fill="#d9cab0"/><circle cx="985.6" cy="226.3" r="1.7" fill="#d9cab0"/><circle cx="987.6" cy="243.9" r="1.7" fill="#d9cab0"/><circle cx="991.3" cy="225.5" r="2.1" fill="#d9cab0"/><circle cx="993.3" cy="243.2" r="2.1" fill="#d9cab0"/><circle cx="997.1" cy="225.2" r="1.9" fill="#d9cab0"/><circle cx="999.1" cy="243.2" r="1.9" fill="#d9cab0"/><circle cx="1001.2" cy="225.2" r="1.7" fill="#d9cab0"/><circle cx="1003.2" cy="243.9" r="1.7" fill="#d9cab0"/><circle cx="1005.2" cy="225.5" r="2.0" fill="#d9cab0"/><circle cx="1007.2" cy="242.9" r="2.0" fill="#d9cab0"/><circle cx="1009.4" cy="225.3" r="2.2" fill="#d9cab0"/><circle cx="1011.4" cy="243.5" r="2.2" fill="#d9cab0"/><circle cx="1012.9" cy="225.0" r="1.9" fill="#d9cab0"/><circle cx="1014.9" cy="242.9" r="1.9" fill="#d9cab0"/><circle cx="1017.8" cy="225.7" r="1.8" fill="#d9cab0"/><circle cx="1019.8" cy="242.6" r="1.8" fill="#d9cab0"/><circle cx="1021.6" cy="225.6" r="2.6" fill="#d9cab0"/><circle cx="1023.6" cy="243.3" r="2.6" fill="#d9cab0"/><ellipse cx="869.0" cy="234.0" rx="15.0" ry="15.0" fill="#ded0b3"/><ellipse cx="870.0" cy="234.0" rx="12.0" ry="12.0" fill="none" stroke="#cdbd9c" stroke-width="2.2" opacity="0.8"/></g>
<rect x="866.0" y="227.0" width="157.0" height="15.0" rx="6.8" fill="#fff" filter="url(#grain)" opacity="0.55"/>
<g filter="url(#b05)"><rect x="863.0" y="253.0" width="164.0" height="21.0" rx="9.5" fill="#d9cab0"/><circle cx="871.0" cy="254.8" r="2.1" fill="#d9cab0"/><circle cx="873.0" cy="272.0" r="2.1" fill="#d9cab0"/><circle cx="877.0" cy="255.2" r="2.0" fill="#d9cab0"/><circle cx="879.0" cy="271.9" r="2.0" fill="#d9cab0"/><circle cx="882.0" cy="254.5" r="2.1" fill="#d9cab0"/><circle cx="884.0" cy="272.9" r="2.1" fill="#d9cab0"/><circle cx="885.9" cy="255.1" r="1.7" fill="#d9cab0"/><circle cx="887.9" cy="272.6" r="1.7" fill="#d9cab0"/><circle cx="889.8" cy="255.3" r="1.7" fill="#d9cab0"/><circle cx="891.8" cy="271.7" r="1.7" fill="#d9cab0"/><circle cx="895.0" cy="254.4" r="1.9" fill="#d9cab0"/><circle cx="897.0" cy="272.6" r="1.9" fill="#d9cab0"/><circle cx="899.6" cy="254.7" r="1.8" fill="#d9cab0"/><circle cx="901.6" cy="272.6" r="1.8" fill="#d9cab0"/><circle cx="905.5" cy="254.8" r="2.8" fill="#d9cab0"/><circle cx="907.5" cy="272.6" r="2.8" fill="#d9cab0"/><circle cx="911.4" cy="254.5" r="2.0" fill="#d9cab0"/><circle cx="913.4" cy="273.0" r="2.0" fill="#d9cab0"/><circle cx="915.9" cy="254.8" r="2.2" fill="#d9cab0"/><circle cx="917.9" cy="272.7" r="2.2" fill="#d9cab0"/><circle cx="920.6" cy="254.4" r="1.6" fill="#d9cab0"/><circle cx="922.6" cy="272.9" r="1.6" fill="#d9cab0"/><circle cx="925.1" cy="254.0" r="1.7" fill="#d9cab0"/><circle cx="927.1" cy="272.5" r="1.7" fill="#d9cab0"/><circle cx="929.2" cy="254.8" r="2.3" fill="#d9cab0"/><circle cx="931.2" cy="271.9" r="2.3" fill="#d9cab0"/><circle cx="934.4" cy="255.3" r="2.5" fill="#d9cab0"/><circle cx="936.4" cy="272.4" r="2.5" fill="#d9cab0"/><circle cx="938.7" cy="254.2" r="2.8" fill="#d9cab0"/><circle cx="940.7" cy="271.9" r="2.8" fill="#d9cab0"/><circle cx="943.8" cy="255.3" r="1.7" fill="#d9cab0"/><circle cx="945.8" cy="271.7" r="1.7" fill="#d9cab0"/><circle cx="948.9" cy="255.2" r="2.5" fill="#d9cab0"/><circle cx="950.9" cy="272.8" r="2.5" fill="#d9cab0"/><circle cx="953.7" cy="255.3" r="2.2" fill="#d9cab0"/><circle cx="955.7" cy="271.8" r="2.2" fill="#d9cab0"/><circle cx="959.2" cy="255.3" r="2.3" fill="#d9cab0"/><circle cx="961.2" cy="272.0" r="2.3" fill="#d9cab0"/><circle cx="964.5" cy="254.0" r="1.9" fill="#d9cab0"/><circle cx="966.5" cy="272.8" r="1.9" fill="#d9cab0"/><circle cx="968.9" cy="255.3" r="1.7" fill="#d9cab0"/><circle cx="970.9" cy="272.2" r="1.7" fill="#d9cab0"/><circle cx="973.9" cy="255.0" r="2.4" fill="#d9cab0"/><circle cx="975.9" cy="272.3" r="2.4" fill="#d9cab0"/><circle cx="977.4" cy="255.1" r="2.6" fill="#d9cab0"/><circle cx="979.4" cy="272.2" r="2.6" fill="#d9cab0"/><circle cx="982.3" cy="254.1" r="2.4" fill="#d9cab0"/><circle cx="984.3" cy="271.9" r="2.4" fill="#d9cab0"/><circle cx="986.4" cy="254.4" r="1.7" fill="#d9cab0"/><circle cx="988.4" cy="271.9" r="1.7" fill="#d9cab0"/><circle cx="990.4" cy="255.5" r="2.5" fill="#d9cab0"/><circle cx="992.4" cy="272.3" r="2.5" fill="#d9cab0"/><circle cx="994.9" cy="255.0" r="2.2" fill="#d9cab0"/><circle cx="996.9" cy="271.8" r="2.2" fill="#d9cab0"/><circle cx="999.9" cy="254.1" r="2.4" fill="#d9cab0"/><circle cx="1001.9" cy="272.8" r="2.4" fill="#d9cab0"/><circle cx="1004.1" cy="254.5" r="2.5" fill="#d9cab0"/><circle cx="1006.1" cy="272.1" r="2.5" fill="#d9cab0"/><circle cx="1007.6" cy="254.4" r="1.7" fill="#d9cab0"/><circle cx="1009.6" cy="272.0" r="1.7" fill="#d9cab0"/><circle cx="1012.8" cy="254.4" r="2.4" fill="#d9cab0"/><circle cx="1014.8" cy="272.2" r="2.4" fill="#d9cab0"/><circle cx="1017.5" cy="254.2" r="2.2" fill="#d9cab0"/><circle cx="1019.5" cy="271.7" r="2.2" fill="#d9cab0"/><ellipse cx="872.0" cy="264.5" rx="15.5" ry="14.5" fill="#ded0b3"/><ellipse cx="873.0" cy="264.5" rx="12.5" ry="11.5" fill="none" stroke="#cdbd9c" stroke-width="2.2" opacity="0.8"/></g>
<rect x="869.0" y="256.0" width="148.0" height="15.0" rx="6.8" fill="#fff" filter="url(#grain)" opacity="0.55"/>
<g filter="url(#b05)"><rect x="856.0" y="282.0" width="178.0" height="27.0" rx="12.3" fill="#d9cab0"/><circle cx="864.0" cy="284.4" r="2.8" fill="#d9cab0"/><circle cx="866.0" cy="308.0" r="2.8" fill="#d9cab0"/><circle cx="868.6" cy="284.5" r="2.6" fill="#d9cab0"/><circle cx="870.6" cy="307.3" r="2.6" fill="#d9cab0"/><circle cx="872.8" cy="284.4" r="1.9" fill="#d9cab0"/><circle cx="874.8" cy="307.7" r="1.9" fill="#d9cab0"/><circle cx="877.8" cy="283.8" r="1.8" fill="#d9cab0"/><circle cx="879.8" cy="306.6" r="1.8" fill="#d9cab0"/><circle cx="881.6" cy="283.8" r="2.6" fill="#d9cab0"/><circle cx="883.6" cy="306.7" r="2.6" fill="#d9cab0"/><circle cx="886.9" cy="284.3" r="1.9" fill="#d9cab0"/><circle cx="888.9" cy="307.3" r="1.9" fill="#d9cab0"/><circle cx="890.4" cy="283.7" r="1.6" fill="#d9cab0"/><circle cx="892.4" cy="307.3" r="1.6" fill="#d9cab0"/><circle cx="894.7" cy="283.5" r="1.8" fill="#d9cab0"/><circle cx="896.7" cy="307.5" r="1.8" fill="#d9cab0"/><circle cx="900.3" cy="284.1" r="1.6" fill="#d9cab0"/><circle cx="902.3" cy="306.7" r="1.6" fill="#d9cab0"/><circle cx="904.1" cy="284.1" r="2.7" fill="#d9cab0"/><circle cx="906.1" cy="306.6" r="2.7" fill="#d9cab0"/><circle cx="908.3" cy="283.6" r="2.0" fill="#d9cab0"/><circle cx="910.3" cy="306.5" r="2.0" fill="#d9cab0"/><circle cx="913.3" cy="283.6" r="2.0" fill="#d9cab0"/><circle cx="915.3" cy="307.6" r="2.0" fill="#d9cab0"/><circle cx="916.9" cy="284.3" r="1.7" fill="#d9cab0"/><circle cx="918.9" cy="307.6" r="1.7" fill="#d9cab0"/><circle cx="922.7" cy="283.4" r="1.9" fill="#d9cab0"/><circle cx="924.7" cy="307.2" r="1.9" fill="#d9cab0"/><circle cx="926.7" cy="284.4" r="2.0" fill="#d9cab0"/><circle cx="928.7" cy="306.7" r="2.0" fill="#d9cab0"/><circle cx="932.2" cy="284.4" r="2.4" fill="#d9cab0"/><circle cx="934.2" cy="306.6" r="2.4" fill="#d9cab0"/><circle cx="937.1" cy="283.1" r="2.5" fill="#d9cab0"/><circle cx="939.1" cy="306.9" r="2.5" fill="#d9cab0"/><circle cx="941.7" cy="284.0" r="2.5" fill="#d9cab0"/><circle cx="943.7" cy="307.6" r="2.5" fill="#d9cab0"/><circle cx="945.4" cy="283.2" r="2.7" fill="#d9cab0"/><circle cx="947.4" cy="307.3" r="2.7" fill="#d9cab0"/><circle cx="949.7" cy="284.1" r="2.0" fill="#d9cab0"/><circle cx="951.7" cy="306.5" r="2.0" fill="#d9cab0"/><circle cx="953.9" cy="283.5" r="2.4" fill="#d9cab0"/><circle cx="955.9" cy="307.2" r="2.4" fill="#d9cab0"/><circle cx="958.4" cy="283.2" r="1.8" fill="#d9cab0"/><circle cx="960.4" cy="307.7" r="1.8" fill="#d9cab0"/><circle cx="964.1" cy="283.3" r="2.2" fill="#d9cab0"/><circle cx="966.1" cy="306.6" r="2.2" fill="#d9cab0"/><circle cx="970.1" cy="283.2" r="2.1" fill="#d9cab0"/><circle cx="972.1" cy="307.7" r="2.1" fill="#d9cab0"/><circle cx="973.8" cy="283.1" r="2.0" fill="#d9cab0"/><circle cx="975.8" cy="307.6" r="2.0" fill="#d9cab0"/><circle cx="978.0" cy="284.3" r="2.3" fill="#d9cab0"/><circle cx="980.0" cy="306.9" r="2.3" fill="#d9cab0"/><circle cx="982.5" cy="283.8" r="2.1" fill="#d9cab0"/><circle cx="984.5" cy="307.4" r="2.1" fill="#d9cab0"/><circle cx="986.9" cy="283.4" r="1.7" fill="#d9cab0"/><circle cx="988.9" cy="306.5" r="1.7" fill="#d9cab0"/><circle cx="990.7" cy="283.9" r="2.2" fill="#d9cab0"/><circle cx="992.7" cy="306.7" r="2.2" fill="#d9cab0"/><circle cx="994.7" cy="283.4" r="1.9" fill="#d9cab0"/><circle cx="996.7" cy="307.4" r="1.9" fill="#d9cab0"/><circle cx="999.3" cy="284.3" r="2.7" fill="#d9cab0"/><circle cx="1001.3" cy="306.7" r="2.7" fill="#d9cab0"/><circle cx="1002.9" cy="284.1" r="1.6" fill="#d9cab0"/><circle cx="1004.9" cy="306.7" r="1.6" fill="#d9cab0"/><circle cx="1007.6" cy="283.0" r="2.3" fill="#d9cab0"/><circle cx="1009.6" cy="307.4" r="2.3" fill="#d9cab0"/><circle cx="1013.4" cy="284.3" r="2.6" fill="#d9cab0"/><circle cx="1015.4" cy="306.5" r="2.6" fill="#d9cab0"/><circle cx="1017.5" cy="283.2" r="1.7" fill="#d9cab0"/><circle cx="1019.5" cy="307.2" r="1.7" fill="#d9cab0"/><circle cx="1022.7" cy="284.1" r="2.7" fill="#d9cab0"/><circle cx="1024.7" cy="307.0" r="2.7" fill="#d9cab0"/><ellipse cx="866.0" cy="296.0" rx="16.0" ry="16.0" fill="#ded0b3"/><ellipse cx="867.0" cy="296.0" rx="13.0" ry="13.0" fill="none" stroke="#cdbd9c" stroke-width="2.2" opacity="0.8"/></g>
<rect x="862.0" y="285.0" width="162.0" height="21.0" rx="9.5" fill="#fff" filter="url(#grain)" opacity="0.55"/>
</g>
<g clip-path="url(#clipB2)">
<rect x="1060.50" y="101.00" width="302.50" height="287.50" fill="url(#bgB2)"/>
<ellipse cx="1212" cy="243" rx="141" ry="136.5" fill="#d6c3a0" filter="url(#b05)"/>
<ellipse cx="1212" cy="243" rx="139.5" ry="135" fill="none" stroke="#efe4cf" stroke-width="2" opacity="0.8"/>
<ellipse cx="1213" cy="244" rx="134" ry="129" fill="#c8b088"/>
<ellipse cx="1213" cy="244" rx="134" ry="129" fill="none" stroke="#e6d6b6" stroke-width="2.5" opacity="0.7"/>
<ellipse cx="1214" cy="245" rx="128" ry="122" fill="url(#agarB2)"/>
<ellipse cx="1214" cy="245" rx="128" ry="122" fill="none" stroke="#c9a874" stroke-width="2.5" opacity="0.8"/>
<g clip-path="url(#dishB2)">
<path d="M 1129.0 155.8 C 1131.3 155.6 1134.5 157.3 1136.0 159.0 C 1137.5 160.7 1137.5 162.5 1137.7 166.0 C 1137.9 169.5 1136.3 176.3 1137.0 180.0 C 1137.7 183.7 1140.7 185.2 1142.0 188.0 C 1143.3 190.8 1144.9 194.0 1145.1 197.0 C 1145.3 200.0 1144.2 203.5 1143.0 206.0 C 1141.8 208.5 1138.2 210.2 1138.0 212.0 C 1137.8 213.8 1141.2 215.0 1142.0 217.0 C 1142.8 219.0 1143.3 221.5 1143.0 224.0 C 1142.7 226.5 1141.2 230.0 1140.0 232.0 C 1138.8 234.0 1136.0 234.8 1136.0 236.0 C 1136.0 237.2 1138.7 237.2 1140.0 239.0 C 1141.3 240.8 1143.7 244.0 1144.0 247.0 C 1144.3 250.0 1143.3 254.2 1142.0 257.0 C 1140.7 259.8 1137.3 261.6 1136.0 264.0 C 1134.7 266.4 1133.7 269.0 1134.0 271.7 C 1134.3 274.4 1137.0 276.5 1138.0 280.0 C 1139.0 283.5 1138.7 288.9 1140.0 292.7 C 1141.3 296.5 1144.5 299.7 1146.0 303.0 C 1147.5 306.3 1148.6 308.7 1148.8 312.4 C 1149.0 316.1 1147.4 321.9 1147.0 325.0 C 1146.6 328.1 1146.8 328.6 1146.3 331.0 C 1145.8 333.4 1146.3 338.6 1143.9 339.6 C 1141.5 340.6 1135.7 338.6 1132.0 337.0 C 1128.3 335.4 1125.9 333.0 1121.7 329.7 C 1117.5 326.4 1111.2 323.6 1106.9 317.4 C 1102.6 311.2 1098.5 300.9 1095.8 292.7 C 1093.1 284.5 1092.4 276.2 1090.8 268.0 C 1089.2 259.8 1086.9 249.9 1085.9 243.3 C 1084.9 236.7 1084.1 234.7 1084.7 228.5 C 1085.3 222.3 1087.5 212.9 1089.6 206.3 C 1091.6 199.7 1093.3 194.8 1097.0 189.0 C 1100.7 183.2 1107.6 176.6 1111.8 171.8 C 1116.0 167.0 1119.1 162.7 1122.0 160.0 C 1124.9 157.3 1126.7 156.0 1129.0 155.8 Z" fill="url(#orB)" filter="url(#b05)"/>
<path d="M 1105 180 L 1135 190 M 1098 205 L 1136 222 M 1094 232 L 1138 246 M 1093 258 L 1132 268 M 1097 285 L 1140 298 M 1102 305 L 1144 318 M 1110 322 L 1142 332" stroke="#d48a12" stroke-width="2" fill="none" opacity="0.5"/>
<path d="M 1112 199 C 1120 204 1130 209 1138 213 M 1110 226 C 1120 230 1130 234 1139 237 M 1104 262 C 1115 266 1125 269 1135 272" stroke="#8a5e22" stroke-width="2.4" fill="none" opacity="0.75" filter="url(#b05)"/>
</g>
<path d="M 1246 171 L 1328 174 L 1329 179 L 1247 177 Z" fill="#dcc69a" opacity="0.8" filter="url(#b05)"/>
<path d="M 1261 207 L 1312 207 L 1325 205 L 1326 213 L 1310 214 L 1262 213 Z" fill="#dcc69a" opacity="0.8" filter="url(#b05)"/>
<path d="M 1262 236 L 1300 238 L 1330 241 L 1330 250 L 1300 247 L 1263 243 Z" fill="#dcc69a" opacity="0.8" filter="url(#b05)"/>
<path d="M 1264 266 L 1330 276 L 1330 280 L 1264 270 Z" fill="#dcc69a" opacity="0.8" filter="url(#b05)"/>
<path d="M 1270 274 L 1326 283 L 1325 287 L 1270 278 Z" fill="#dcc69a" opacity="0.8" filter="url(#b05)"/>
<path d="M 1262 294 L 1300 296 L 1308 297 L 1308 306 L 1290 305 L 1263 301 Z" fill="#dcc69a" opacity="0.8" filter="url(#b05)"/>
<path d="M 1250 173 L 1325 176 M 1265 209.5 L 1322 209 M 1266 239.5 L 1326 244.5" stroke="#efe2c0" stroke-width="1" fill="none" opacity="0.6"/>
<path d="M 1169 232 L 1201 234 M 1168 240 L 1200 241" stroke="#b49a6e" stroke-width="2" opacity="0.5" filter="url(#b05)"/>
</g>
<text x="1.87" y="31.10" font-size="43.00" textLength="52.15" lengthAdjust="spacingAndGlyphs" fill="#000"><tspan font-weight="bold">(a)</tspan></text>
<text x="699.85" y="31.10" font-size="43.00" textLength="55.21" lengthAdjust="spacingAndGlyphs" fill="#000"><tspan font-weight="bold">(b)</tspan></text>
<text x="-2.14" y="481.40" font-size="43.00" textLength="52.48" lengthAdjust="spacingAndGlyphs" fill="#000"><tspan font-weight="bold">(c)</tspan></text>
<text x="701.95" y="483.20" font-size="43.00" textLength="55.21" lengthAdjust="spacingAndGlyphs" fill="#000"><tspan font-weight="bold">(d)</tspan></text>
<text x="9.93" y="1354.00" font-size="43.00" textLength="53.13" lengthAdjust="spacingAndGlyphs" fill="#000"><tspan font-weight="bold">(e)</tspan></text>
<text x="109.42" y="38.70" font-size="41.60" textLength="504.46" lengthAdjust="spacingAndGlyphs" fill="#000"><tspan>Against fungi (</tspan><tspan font-style="italic">M. anisopliae</tspan><tspan>)</tspan></text>
<text x="819.62" y="38.90" font-size="41.60" textLength="496.06" lengthAdjust="spacingAndGlyphs" fill="#000"><tspan>Against bacteria (</tspan><tspan font-style="italic">B. subtilis</tspan><tspan>)</tspan></text>
<text x="86.00" y="87.30" font-size="30.00" textLength="259.88" lengthAdjust="spacingAndGlyphs" fill="#000"><tspan>– </tspan><tspan font-style="italic">Streptomyces</tspan><tspan> #107</tspan></text>
<text x="382.35" y="87.30" font-size="30.00" textLength="261.33" lengthAdjust="spacingAndGlyphs" fill="#000"><tspan>+ </tspan><tspan font-style="italic">Streptomyces</tspan><tspan> #107</tspan></text>
<text x="784.80" y="87.30" font-size="30.00" textLength="260.49" lengthAdjust="spacingAndGlyphs" fill="#000"><tspan>– </tspan><tspan font-style="italic">Streptomyces</tspan><tspan> #107</tspan></text>
<text x="1078.55" y="87.30" font-size="30.00" textLength="261.13" lengthAdjust="spacingAndGlyphs" fill="#000"><tspan>+ </tspan><tspan font-style="italic">Streptomyces</tspan><tspan> #107</tspan></text>
<line x1="189.80" y1="471.20" x2="248.90" y2="471.20" stroke="#0d0d0b" stroke-width="7.80" stroke-linecap="butt"/>
<line x1="189.80" y1="514.90" x2="250.00" y2="514.90" stroke="#a69a38" stroke-width="7.60" stroke-linecap="butt" stroke-dasharray="5.1 5.5"/>
<text x="265.90" y="480.60" font-size="32.00" textLength="282.20" lengthAdjust="spacingAndGlyphs" fill="#000"><tspan>– </tspan><tspan font-style="italic">Streptomyces</tspan><tspan> #107</tspan></text>
<text x="264.44" y="525.50" font-size="32.00" textLength="283.67" lengthAdjust="spacingAndGlyphs" fill="#000"><tspan>+ </tspan><tspan font-style="italic">Streptomyces</tspan><tspan> #107</tspan></text>
<line x1="171.10" y1="490.50" x2="171.10" y2="793.70" stroke="#1a1a1a" stroke-width="2.60" stroke-linecap="butt"/>
<line x1="169.80" y1="792.40" x2="635.40" y2="792.40" stroke="#1a1a1a" stroke-width="2.60" stroke-linecap="butt"/>
<line x1="162.60" y1="792.40" x2="171.10" y2="792.40" stroke="#1a1a1a" stroke-width="2.60" stroke-linecap="butt"/>
<line x1="162.60" y1="733.90" x2="171.10" y2="733.90" stroke="#1a1a1a" stroke-width="2.60" stroke-linecap="butt"/>
<line x1="162.60" y1="675.40" x2="171.10" y2="675.40" stroke="#1a1a1a" stroke-width="2.60" stroke-linecap="butt"/>
<line x1="162.60" y1="616.90" x2="171.10" y2="616.90" stroke="#1a1a1a" stroke-width="2.60" stroke-linecap="butt"/>
<line x1="162.60" y1="558.40" x2="171.10" y2="558.40" stroke="#1a1a1a" stroke-width="2.60" stroke-linecap="butt"/>
<line x1="162.60" y1="499.90" x2="171.10" y2="499.90" stroke="#1a1a1a" stroke-width="2.60" stroke-linecap="butt"/>
<line x1="230.60" y1="792.40" x2="230.60" y2="796.90" stroke="#444" stroke-width="2.20" stroke-linecap="butt"/>
<line x1="345.50" y1="792.40" x2="345.50" y2="796.90" stroke="#444" stroke-width="2.20" stroke-linecap="butt"/>
<line x1="460.30" y1="792.40" x2="460.30" y2="796.90" stroke="#444" stroke-width="2.20" stroke-linecap="butt"/>
<line x1="575.00" y1="792.40" x2="575.00" y2="796.90" stroke="#444" stroke-width="2.20" stroke-linecap="butt"/>
<text x="139.58" y="802.10" font-size="28.20" textLength="16.15" lengthAdjust="spacingAndGlyphs" fill="#000"><tspan>0</tspan></text>
<text x="139.67" y="743.60" font-size="28.20" textLength="16.15" lengthAdjust="spacingAndGlyphs" fill="#000"><tspan>5</tspan></text>
<text x="123.43" y="685.10" font-size="28.20" textLength="32.31" lengthAdjust="spacingAndGlyphs" fill="#000"><tspan>10</tspan></text>
<text x="123.51" y="626.60" font-size="28.20" textLength="32.31" lengthAdjust="spacingAndGlyphs" fill="#000"><tspan>15</tspan></text>
<text x="123.43" y="568.10" font-size="28.20" textLength="32.31" lengthAdjust="spacingAndGlyphs" fill="#000"><tspan>20</tspan></text>
<text x="123.51" y="509.60" font-size="28.20" textLength="32.31" lengthAdjust="spacingAndGlyphs" fill="#000"><tspan>25</tspan></text>
<polyline points="230.60,788.30 345.50,777.77 460.30,747.94 575.00,734.49" fill="none" stroke="#a69a38" stroke-width="4.60" stroke-linejoin="miter" stroke-linecap="butt" stroke-dasharray="5.6 4.4"/>
<polyline points="230.60,783.04 345.50,766.66 460.30,656.68 575.00,554.89" fill="none" stroke="#0d0d0b" stroke-width="5.00" stroke-linejoin="miter" stroke-linecap="butt"/>
<line x1="345.50" y1="761.98" x2="345.50" y2="770.17" stroke="#000" stroke-width="2.60" stroke-linecap="butt"/>
<line x1="341.75" y1="761.98" x2="349.25" y2="761.98" stroke="#000" stroke-width="2.60" stroke-linecap="butt"/>
<line x1="341.75" y1="770.17" x2="349.25" y2="770.17" stroke="#000" stroke-width="2.60" stroke-linecap="butt"/>
<line x1="460.30" y1="634.45" x2="460.30" y2="677.74" stroke="#000" stroke-width="2.60" stroke-linecap="butt"/>
<line x1="456.55" y1="634.45" x2="464.05" y2="634.45" stroke="#000" stroke-width="2.60" stroke-linecap="butt"/>
<line x1="456.55" y1="677.74" x2="464.05" y2="677.74" stroke="#000" stroke-width="2.60" stroke-linecap="butt"/>
<line x1="575.00" y1="502.24" x2="575.00" y2="607.54" stroke="#000" stroke-width="2.60" stroke-linecap="butt"/>
<line x1="571.25" y1="502.24" x2="578.75" y2="502.24" stroke="#000" stroke-width="2.60" stroke-linecap="butt"/>
<line x1="571.25" y1="607.54" x2="578.75" y2="607.54" stroke="#000" stroke-width="2.60" stroke-linecap="butt"/>
<line x1="347.00" y1="773.68" x2="347.00" y2="780.70" stroke="#000" stroke-width="2.60" stroke-linecap="butt"/>
<line x1="343.25" y1="773.68" x2="350.75" y2="773.68" stroke="#000" stroke-width="2.60" stroke-linecap="butt"/>
<line x1="343.25" y1="780.70" x2="350.75" y2="780.70" stroke="#000" stroke-width="2.60" stroke-linecap="butt"/>
<line x1="461.80" y1="731.56" x2="461.80" y2="763.15" stroke="#000" stroke-width="2.60" stroke-linecap="butt"/>
<line x1="458.05" y1="731.56" x2="465.55" y2="731.56" stroke="#000" stroke-width="2.60" stroke-linecap="butt"/>
<line x1="458.05" y1="763.15" x2="465.55" y2="763.15" stroke="#000" stroke-width="2.60" stroke-linecap="butt"/>
<line x1="576.50" y1="714.01" x2="576.50" y2="753.79" stroke="#000" stroke-width="2.60" stroke-linecap="butt"/>
<line x1="572.75" y1="714.01" x2="580.25" y2="714.01" stroke="#000" stroke-width="2.60" stroke-linecap="butt"/>
<line x1="572.75" y1="753.79" x2="580.25" y2="753.79" stroke="#000" stroke-width="2.60" stroke-linecap="butt"/>
<polyline points="609.10,579.60 615.60,579.60 615.60,718.80 609.10,718.80" fill="none" stroke="#1a1a1a" stroke-width="2.50" stroke-linejoin="miter" stroke-linecap="butt"/>
<text x="636.4" y="669.7" font-size="38" font-weight="bold" text-anchor="middle">*</text>
<text x="199.53" y="821.90" font-size="24.70" textLength="55.08" lengthAdjust="spacingAndGlyphs" fill="#000"><tspan>day3</tspan></text>
<text x="315.12" y="821.90" font-size="24.70" textLength="55.81" lengthAdjust="spacingAndGlyphs" fill="#000"><tspan>day6</tspan></text>
<text x="430.25" y="821.90" font-size="24.70" textLength="54.34" lengthAdjust="spacingAndGlyphs" fill="#000"><tspan>day9</tspan></text>
<text x="537.53" y="821.90" font-size="24.70" textLength="69.56" lengthAdjust="spacingAndGlyphs" fill="#000"><tspan>day12</tspan></text>
<text x="296.22" y="860.40" font-size="34.30" textLength="206.78" lengthAdjust="spacingAndGlyphs" fill="#000"><tspan font-style="italic">M. anisopliae</tspan></text>
<text transform="translate(106.70,0) rotate(-90)" x="-776.08" y="0" font-size="30.80" textLength="207.93" lengthAdjust="spacingAndGlyphs" fill="#000"><tspan>Mycelial growth</tspan></text>
<text transform="translate(106.70,0) rotate(-90)" x="-559.21" y="0" font-size="30.80" textLength="48.62" lengthAdjust="spacingAndGlyphs" fill="#000"><tspan>(cm)</tspan></text>
<text transform="translate(88.00,0) rotate(-90)" x="-528.23" y="0" font-size="11.60" textLength="8.06" lengthAdjust="spacingAndGlyphs" fill="#000"><tspan>2</tspan></text>
<line x1="169.10" y1="887.10" x2="169.10" y2="1192.90" stroke="#1a1a1a" stroke-width="2.60" stroke-linecap="butt"/>
<line x1="167.80" y1="1191.60" x2="631.00" y2="1191.60" stroke="#1a1a1a" stroke-width="2.60" stroke-linecap="butt"/>
<line x1="160.60" y1="1191.60" x2="169.10" y2="1191.60" stroke="#1a1a1a" stroke-width="2.60" stroke-linecap="butt"/>
<line x1="160.60" y1="1122.35" x2="169.10" y2="1122.35" stroke="#1a1a1a" stroke-width="2.60" stroke-linecap="butt"/>
<line x1="160.60" y1="1053.10" x2="169.10" y2="1053.10" stroke="#1a1a1a" stroke-width="2.60" stroke-linecap="butt"/>
<line x1="160.60" y1="983.85" x2="169.10" y2="983.85" stroke="#1a1a1a" stroke-width="2.60" stroke-linecap="butt"/>
<line x1="160.60" y1="914.60" x2="169.10" y2="914.60" stroke="#1a1a1a" stroke-width="2.60" stroke-linecap="butt"/>
<line x1="228.50" y1="1191.60" x2="228.50" y2="1196.10" stroke="#444" stroke-width="2.20" stroke-linecap="butt"/>
<line x1="343.00" y1="1191.60" x2="343.00" y2="1196.10" stroke="#444" stroke-width="2.20" stroke-linecap="butt"/>
<line x1="457.50" y1="1191.60" x2="457.50" y2="1196.10" stroke="#444" stroke-width="2.20" stroke-linecap="butt"/>
<line x1="572.30" y1="1191.60" x2="572.30" y2="1196.10" stroke="#444" stroke-width="2.20" stroke-linecap="butt"/>
<text x="135.18" y="1201.30" font-size="28.20" textLength="16.15" lengthAdjust="spacingAndGlyphs" fill="#000"><tspan>0</tspan></text>
<text x="135.27" y="1132.05" font-size="28.20" textLength="16.15" lengthAdjust="spacingAndGlyphs" fill="#000"><tspan>5</tspan></text>
<text x="119.03" y="1062.80" font-size="28.20" textLength="32.31" lengthAdjust="spacingAndGlyphs" fill="#000"><tspan>10</tspan></text>
<text x="119.11" y="993.55" font-size="28.20" textLength="32.31" lengthAdjust="spacingAndGlyphs" fill="#000"><tspan>15</tspan></text>
<text x="119.03" y="924.30" font-size="28.20" textLength="32.31" lengthAdjust="spacingAndGlyphs" fill="#000"><tspan>20</tspan></text>
<polyline points="228.50,1187.44 343.00,1174.29 457.50,1162.51 572.30,1133.43" fill="none" stroke="#a69a38" stroke-width="4.60" stroke-linejoin="miter" stroke-linecap="butt" stroke-dasharray="5.6 4.4"/>
<polyline points="228.50,1184.67 343.00,1169.44 457.50,1025.40 572.30,967.23" fill="none" stroke="#0d0d0b" stroke-width="5.00" stroke-linejoin="miter" stroke-linecap="butt"/>
<line x1="343.00" y1="1165.28" x2="343.00" y2="1174.98" stroke="#000" stroke-width="2.60" stroke-linecap="butt"/>
<line x1="339.25" y1="1165.28" x2="346.75" y2="1165.28" stroke="#000" stroke-width="2.60" stroke-linecap="butt"/>
<line x1="339.25" y1="1174.98" x2="346.75" y2="1174.98" stroke="#000" stroke-width="2.60" stroke-linecap="butt"/>
<line x1="457.50" y1="974.15" x2="457.50" y2="1076.64" stroke="#000" stroke-width="2.60" stroke-linecap="butt"/>
<line x1="453.75" y1="974.15" x2="461.25" y2="974.15" stroke="#000" stroke-width="2.60" stroke-linecap="butt"/>
<line x1="453.75" y1="1076.64" x2="461.25" y2="1076.64" stroke="#000" stroke-width="2.60" stroke-linecap="butt"/>
<line x1="572.30" y1="913.21" x2="572.30" y2="1019.86" stroke="#000" stroke-width="2.60" stroke-linecap="butt"/>
<line x1="568.55" y1="913.21" x2="576.05" y2="913.21" stroke="#000" stroke-width="2.60" stroke-linecap="butt"/>
<line x1="568.55" y1="1019.86" x2="576.05" y2="1019.86" stroke="#000" stroke-width="2.60" stroke-linecap="butt"/>
<line x1="344.50" y1="1170.82" x2="344.50" y2="1177.75" stroke="#000" stroke-width="2.60" stroke-linecap="butt"/>
<line x1="340.75" y1="1170.82" x2="348.25" y2="1170.82" stroke="#000" stroke-width="2.60" stroke-linecap="butt"/>
<line x1="340.75" y1="1177.75" x2="348.25" y2="1177.75" stroke="#000" stroke-width="2.60" stroke-linecap="butt"/>
<line x1="459.00" y1="1158.36" x2="459.00" y2="1165.28" stroke="#000" stroke-width="2.60" stroke-linecap="butt"/>
<line x1="455.25" y1="1158.36" x2="462.75" y2="1158.36" stroke="#000" stroke-width="2.60" stroke-linecap="butt"/>
<line x1="455.25" y1="1165.28" x2="462.75" y2="1165.28" stroke="#000" stroke-width="2.60" stroke-linecap="butt"/>
<line x1="573.80" y1="1122.35" x2="573.80" y2="1143.12" stroke="#000" stroke-width="2.60" stroke-linecap="butt"/>
<line x1="570.05" y1="1122.35" x2="577.55" y2="1122.35" stroke="#000" stroke-width="2.60" stroke-linecap="butt"/>
<line x1="570.05" y1="1143.12" x2="577.55" y2="1143.12" stroke="#000" stroke-width="2.60" stroke-linecap="butt"/>
<polyline points="606.30,990.00 612.80,990.00 612.80,1130.00 606.30,1130.00" fill="none" stroke="#1a1a1a" stroke-width="2.50" stroke-linejoin="miter" stroke-linecap="butt"/>
<text x="634" y="1080" font-size="38" font-weight="bold" text-anchor="middle">*</text>
<text x="197.74" y="1217.90" font-size="24.70" textLength="54.87" lengthAdjust="spacingAndGlyphs" fill="#000"><tspan>day3</tspan></text>
<text x="311.93" y="1217.90" font-size="24.70" textLength="55.19" lengthAdjust="spacingAndGlyphs" fill="#000"><tspan>day6</tspan></text>
<text x="426.13" y="1217.90" font-size="24.70" textLength="55.28" lengthAdjust="spacingAndGlyphs" fill="#000"><tspan>day9</tspan></text>
<text x="534.34" y="1217.90" font-size="24.70" textLength="68.62" lengthAdjust="spacingAndGlyphs" fill="#000"><tspan>day12</tspan></text>
<text x="304.03" y="1261.40" font-size="35.80" textLength="182.16" lengthAdjust="spacingAndGlyphs" fill="#000"><tspan font-style="italic">B. bassiana</tspan></text>
<text transform="translate(100.70,0) rotate(-90)" x="-1175.17" y="0" font-size="32.00" textLength="207.12" lengthAdjust="spacingAndGlyphs" fill="#000"><tspan>Mycelial growth</tspan></text>
<text transform="translate(100.70,0) rotate(-90)" x="-959.10" y="0" font-size="32.00" textLength="48.51" lengthAdjust="spacingAndGlyphs" fill="#000"><tspan>(cm)</tspan></text>
<text transform="translate(82.00,0) rotate(-90)" x="-928.22" y="0" font-size="11.60" textLength="7.94" lengthAdjust="spacingAndGlyphs" fill="#000"><tspan>2</tspan></text>
<rect x="883.00" y="471.40" width="44.50" height="44.20" fill="#3e3e3e"/>
<rect x="883.00" y="527.90" width="44.50" height="43.90" fill="#a0902c"/>
<text x="941.10" y="503.70" font-size="31.80" textLength="282.70" lengthAdjust="spacingAndGlyphs" fill="#000"><tspan>– </tspan><tspan font-style="italic">Streptomyces</tspan><tspan> #107</tspan></text>
<text x="939.64" y="561.30" font-size="31.80" textLength="284.17" lengthAdjust="spacingAndGlyphs" fill="#000"><tspan>+ </tspan><tspan font-style="italic">Streptomyces</tspan><tspan> #107</tspan></text>
<rect x="820.00" y="694.40" width="48.20" height="466.40" fill="#3e3e3e"/>
<rect x="868.20" y="946.74" width="48.20" height="214.06" fill="#a0902c"/>
<rect x="927.20" y="710.98" width="48.20" height="449.82" fill="#3e3e3e"/>
<rect x="975.40" y="870.00" width="48.20" height="290.80" fill="#a0902c"/>
<rect x="1034.50" y="715.74" width="48.20" height="445.06" fill="#3e3e3e"/>
<rect x="1082.70" y="997.01" width="48.20" height="163.79" fill="#a0902c"/>
<rect x="1142.00" y="710.10" width="48.20" height="450.70" fill="#3e3e3e"/>
<rect x="1190.20" y="694.22" width="48.20" height="466.58" fill="#a0902c"/>
<rect x="1249.10" y="705.69" width="48.20" height="455.11" fill="#3e3e3e"/>
<rect x="1297.30" y="723.33" width="48.20" height="437.47" fill="#a0902c"/>
<line x1="844.10" y1="682.40" x2="844.10" y2="706.92" stroke="#000" stroke-width="2.70" stroke-linecap="butt"/>
<line x1="838.60" y1="682.40" x2="849.60" y2="682.40" stroke="#000" stroke-width="2.70" stroke-linecap="butt"/>
<line x1="838.60" y1="706.92" x2="849.60" y2="706.92" stroke="#000" stroke-width="2.70" stroke-linecap="butt"/>
<line x1="892.30" y1="912.08" x2="892.30" y2="981.75" stroke="#000" stroke-width="2.70" stroke-linecap="butt"/>
<line x1="886.80" y1="912.08" x2="897.80" y2="912.08" stroke="#000" stroke-width="2.70" stroke-linecap="butt"/>
<line x1="886.80" y1="981.75" x2="897.80" y2="981.75" stroke="#000" stroke-width="2.70" stroke-linecap="butt"/>
<line x1="951.30" y1="691.58" x2="951.30" y2="732.15" stroke="#000" stroke-width="2.70" stroke-linecap="butt"/>
<line x1="945.80" y1="691.58" x2="956.80" y2="691.58" stroke="#000" stroke-width="2.70" stroke-linecap="butt"/>
<line x1="945.80" y1="732.15" x2="956.80" y2="732.15" stroke="#000" stroke-width="2.70" stroke-linecap="butt"/>
<line x1="999.50" y1="861.80" x2="999.50" y2="876.80" stroke="#000" stroke-width="2.70" stroke-linecap="butt"/>
<line x1="994.00" y1="861.80" x2="1005.00" y2="861.80" stroke="#000" stroke-width="2.70" stroke-linecap="butt"/>
<line x1="994.00" y1="876.80" x2="1005.00" y2="876.80" stroke="#000" stroke-width="2.70" stroke-linecap="butt"/>
<line x1="1058.60" y1="700.40" x2="1058.60" y2="732.15" stroke="#000" stroke-width="2.70" stroke-linecap="butt"/>
<line x1="1053.10" y1="700.40" x2="1064.10" y2="700.40" stroke="#000" stroke-width="2.70" stroke-linecap="butt"/>
<line x1="1053.10" y1="732.15" x2="1064.10" y2="732.15" stroke="#000" stroke-width="2.70" stroke-linecap="butt"/>
<line x1="1106.80" y1="920.90" x2="1106.80" y2="1073.48" stroke="#000" stroke-width="2.70" stroke-linecap="butt"/>
<line x1="1101.30" y1="920.90" x2="1112.30" y2="920.90" stroke="#000" stroke-width="2.70" stroke-linecap="butt"/>
<line x1="1101.30" y1="1073.48" x2="1112.30" y2="1073.48" stroke="#000" stroke-width="2.70" stroke-linecap="butt"/>
<line x1="1166.10" y1="695.99" x2="1166.10" y2="726.86" stroke="#000" stroke-width="2.70" stroke-linecap="butt"/>
<line x1="1160.60" y1="695.99" x2="1171.60" y2="695.99" stroke="#000" stroke-width="2.70" stroke-linecap="butt"/>
<line x1="1160.60" y1="726.86" x2="1171.60" y2="726.86" stroke="#000" stroke-width="2.70" stroke-linecap="butt"/>
<line x1="1214.30" y1="680.99" x2="1214.30" y2="708.33" stroke="#000" stroke-width="2.70" stroke-linecap="butt"/>
<line x1="1208.80" y1="680.99" x2="1219.80" y2="680.99" stroke="#000" stroke-width="2.70" stroke-linecap="butt"/>
<line x1="1208.80" y1="708.33" x2="1219.80" y2="708.33" stroke="#000" stroke-width="2.70" stroke-linecap="butt"/>
<line x1="1273.20" y1="690.69" x2="1273.20" y2="723.33" stroke="#000" stroke-width="2.70" stroke-linecap="butt"/>
<line x1="1267.70" y1="690.69" x2="1278.70" y2="690.69" stroke="#000" stroke-width="2.70" stroke-linecap="butt"/>
<line x1="1267.70" y1="723.33" x2="1278.70" y2="723.33" stroke="#000" stroke-width="2.70" stroke-linecap="butt"/>
<line x1="1321.40" y1="709.22" x2="1321.40" y2="738.32" stroke="#000" stroke-width="2.70" stroke-linecap="butt"/>
<line x1="1315.90" y1="709.22" x2="1326.90" y2="709.22" stroke="#000" stroke-width="2.70" stroke-linecap="butt"/>
<line x1="1315.90" y1="738.32" x2="1326.90" y2="738.32" stroke="#000" stroke-width="2.70" stroke-linecap="butt"/>
<line x1="804.50" y1="620.20" x2="804.50" y2="1162.80" stroke="#1a1a1a" stroke-width="4.00" stroke-linecap="butt"/>
<line x1="798.40" y1="1160.80" x2="1359.00" y2="1160.80" stroke="#1a1a1a" stroke-width="4.00" stroke-linecap="butt"/>
<line x1="798.00" y1="1160.80" x2="804.50" y2="1160.80" stroke="#1a1a1a" stroke-width="4.00" stroke-linecap="butt"/>
<line x1="798.00" y1="1072.60" x2="804.50" y2="1072.60" stroke="#1a1a1a" stroke-width="4.00" stroke-linecap="butt"/>
<line x1="798.00" y1="984.40" x2="804.50" y2="984.40" stroke="#1a1a1a" stroke-width="4.00" stroke-linecap="butt"/>
<line x1="798.00" y1="896.20" x2="804.50" y2="896.20" stroke="#1a1a1a" stroke-width="4.00" stroke-linecap="butt"/>
<line x1="798.00" y1="808.00" x2="804.50" y2="808.00" stroke="#1a1a1a" stroke-width="4.00" stroke-linecap="butt"/>
<line x1="798.00" y1="719.80" x2="804.50" y2="719.80" stroke="#1a1a1a" stroke-width="4.00" stroke-linecap="butt"/>
<line x1="798.00" y1="631.60" x2="804.50" y2="631.60" stroke="#1a1a1a" stroke-width="4.00" stroke-linecap="butt"/>
<line x1="868.20" y1="1160.80" x2="868.20" y2="1171.60" stroke="#1a1a1a" stroke-width="3.60" stroke-linecap="butt"/>
<line x1="975.40" y1="1160.80" x2="975.40" y2="1171.60" stroke="#1a1a1a" stroke-width="3.60" stroke-linecap="butt"/>
<line x1="1082.70" y1="1160.80" x2="1082.70" y2="1171.60" stroke="#1a1a1a" stroke-width="3.60" stroke-linecap="butt"/>
<line x1="1190.20" y1="1160.80" x2="1190.20" y2="1171.60" stroke="#1a1a1a" stroke-width="3.60" stroke-linecap="butt"/>
<line x1="1297.30" y1="1160.80" x2="1297.30" y2="1171.60" stroke="#1a1a1a" stroke-width="3.60" stroke-linecap="butt"/>
<text x="764.54" y="1173.14" font-size="35.00" textLength="19.43" lengthAdjust="spacingAndGlyphs" fill="#000"><tspan>0</tspan></text>
<text x="753.19" y="1084.94" font-size="35.00" textLength="38.15" lengthAdjust="spacingAndGlyphs" fill="#000"><tspan>10</tspan></text>
<text x="753.19" y="996.74" font-size="35.00" textLength="38.15" lengthAdjust="spacingAndGlyphs" fill="#000"><tspan>20</tspan></text>
<text x="753.19" y="908.54" font-size="35.00" textLength="38.15" lengthAdjust="spacingAndGlyphs" fill="#000"><tspan>30</tspan></text>
<text x="753.19" y="820.34" font-size="35.00" textLength="38.15" lengthAdjust="spacingAndGlyphs" fill="#000"><tspan>40</tspan></text>
<text x="753.19" y="732.14" font-size="35.00" textLength="38.15" lengthAdjust="spacingAndGlyphs" fill="#000"><tspan>50</tspan></text>
<text x="753.19" y="643.94" font-size="35.00" textLength="38.15" lengthAdjust="spacingAndGlyphs" fill="#000"><tspan>60</tspan></text>
<polyline points="849.80,637.30 849.80,633.10 907.00,633.10 907.00,637.30" fill="none" stroke="#1a1a1a" stroke-width="2.70" stroke-linejoin="miter" stroke-linecap="butt"/>
<polyline points="946.20,637.30 946.20,633.10 1003.90,633.10 1003.90,637.30" fill="none" stroke="#1a1a1a" stroke-width="2.70" stroke-linejoin="miter" stroke-linecap="butt"/>
<polyline points="1052.80,637.30 1052.80,633.10 1110.00,633.10 1110.00,637.30" fill="none" stroke="#1a1a1a" stroke-width="2.70" stroke-linejoin="miter" stroke-linecap="butt"/>
<polyline points="1159.40,637.30 1159.40,633.10 1216.30,633.10 1216.30,637.30" fill="none" stroke="#1a1a1a" stroke-width="2.70" stroke-linejoin="miter" stroke-linecap="butt"/>
<polyline points="1267.60,637.30 1267.60,633.10 1324.40,633.10 1324.40,637.30" fill="none" stroke="#1a1a1a" stroke-width="2.70" stroke-linejoin="miter" stroke-linecap="butt"/>
<text x="869.10" y="634.00" font-size="24" font-weight="bold" textLength="19.50" lengthAdjust="spacingAndGlyphs">**</text>
<text x="965.30" y="634.00" font-size="24" font-weight="bold" textLength="19.70" lengthAdjust="spacingAndGlyphs">**</text>
<text x="1072.00" y="634.00" font-size="24" font-weight="bold" textLength="19.80" lengthAdjust="spacingAndGlyphs">**</text>
<text x="1171.17" y="627.00" font-size="24.70" textLength="33.59" lengthAdjust="spacingAndGlyphs" fill="#000"><tspan font-weight="bold">n.s</tspan></text>
<text x="1279.29" y="627.00" font-size="24.70" textLength="33.15" lengthAdjust="spacingAndGlyphs" fill="#000"><tspan font-weight="bold">n.s</tspan></text>
<text x="852.40" y="1209.50" font-size="35.60" textLength="41.63" lengthAdjust="spacingAndGlyphs" fill="#000"><tspan font-style="italic">Bs</tspan></text>
<text x="958.83" y="1209.50" font-size="35.60" textLength="32.86" lengthAdjust="spacingAndGlyphs" fill="#000"><tspan font-style="italic">Bt</tspan></text>
<text x="1062.22" y="1209.50" font-size="35.60" textLength="36.99" lengthAdjust="spacingAndGlyphs" fill="#000"><tspan font-style="italic">Ml</tspan></text>
<text x="1168.75" y="1209.50" font-size="35.60" textLength="41.82" lengthAdjust="spacingAndGlyphs" fill="#000"><tspan font-style="italic">Pa</tspan></text>
<text x="1269.19" y="1209.50" font-size="35.60" textLength="53.36" lengthAdjust="spacingAndGlyphs" fill="#000"><tspan font-style="italic">Sm</tspan></text>
<line x1="838.30" y1="1223.40" x2="1111.70" y2="1223.40" stroke="#1a1a1a" stroke-width="2.50" stroke-linecap="butt"/>
<line x1="1165.10" y1="1223.40" x2="1331.80" y2="1223.40" stroke="#1a1a1a" stroke-width="2.50" stroke-linecap="butt"/>
<text x="891.32" y="1257.50" font-size="28.20" textLength="171.00" lengthAdjust="spacingAndGlyphs" fill="#000"><tspan>Gram-positive</tspan></text>
<text x="1158.12" y="1257.50" font-size="28.20" textLength="181.60" lengthAdjust="spacingAndGlyphs" fill="#000"><tspan>Gram-negative</tspan></text>
<text transform="translate(731.30,0) rotate(-90)" x="-1098.87" y="0" font-size="28.20" textLength="400.83" lengthAdjust="spacingAndGlyphs" fill="#000"><tspan>Length of colony formed (mm)</tspan></text>
<polyline points="158.20,1444.30 415.20,1444.30 415.20,1452.90 687.70,1452.90" fill="none" stroke="#a6972c" stroke-width="6.00" stroke-linejoin="round" stroke-linecap="butt"/>
<polyline points="158.20,1444.30 312.40,1444.30 312.40,1449.00 363.80,1449.00 363.80,1474.20 415.20,1474.20 415.20,1495.90 466.60,1495.90 466.60,1513.60 518.00,1513.60 518.00,1539.40 569.40,1539.40 569.40,1570.10 620.80,1570.10 620.80,1600.00 672.20,1600.00 672.20,1613.40" fill="none" stroke="#4b7232" stroke-width="6.00" stroke-linejoin="round" stroke-linecap="butt"/>
<polyline points="158.20,1444.30 687.70,1444.30" fill="none" stroke="#4d4d4d" stroke-width="6.00" stroke-linejoin="round" stroke-linecap="butt"/>
<polyline points="158.20,1444.30 363.80,1444.30 363.80,1449.00 466.60,1449.00 466.60,1465.80 518.00,1465.80 518.00,1482.30 569.40,1482.30 569.40,1487.10 620.80,1487.10 620.80,1513.00 672.20,1513.00 672.20,1555.60" fill="none" stroke="#d6398b" stroke-width="6.00" stroke-linejoin="round" stroke-linecap="butt"/>
<line x1="675.00" y1="1431.90" x2="675.00" y2="1456.70" stroke="#4d4d4d" stroke-width="5.60" stroke-linecap="butt"/>
<line x1="675.00" y1="1440.40" x2="675.00" y2="1465.80" stroke="#a6972c" stroke-width="5.60" stroke-linecap="butt"/>
<line x1="659.40" y1="1555.60" x2="685.80" y2="1555.60" stroke="#d6398b" stroke-width="6.40" stroke-linecap="butt"/>
<line x1="672.60" y1="1545.00" x2="672.60" y2="1568.70" stroke="#d6398b" stroke-width="6.00" stroke-linecap="butt"/>
<line x1="659.40" y1="1613.40" x2="685.80" y2="1613.40" stroke="#4b7232" stroke-width="6.40" stroke-linecap="butt"/>
<line x1="673.00" y1="1600.00" x2="673.00" y2="1626.40" stroke="#4b7232" stroke-width="6.00" stroke-linecap="butt"/>
<line x1="696.50" y1="1430.20" x2="696.50" y2="1470.90" stroke="#111" stroke-width="2.80" stroke-linecap="butt"/>
<text x="702.47" y="1459.80" font-size="30.80" textLength="15.75" lengthAdjust="spacingAndGlyphs" fill="#000"><tspan font-weight="bold">a</tspan></text>
<text x="700.71" y="1552.00" font-size="29.30" textLength="19.40" lengthAdjust="spacingAndGlyphs" fill="#000"><tspan font-weight="bold">b</tspan></text>
<text x="699.91" y="1622.10" font-size="31.00" textLength="16.99" lengthAdjust="spacingAndGlyphs" fill="#000"><tspan font-weight="bold">c</tspan></text>
<line x1="132.60" y1="1440.80" x2="132.60" y2="1862.10" stroke="#111" stroke-width="5.50" stroke-linecap="butt"/>
<line x1="126.20" y1="1859.60" x2="698.00" y2="1859.60" stroke="#111" stroke-width="5.00" stroke-linecap="butt"/>
<line x1="125.40" y1="1443.30" x2="132.60" y2="1443.30" stroke="#111" stroke-width="4.80" stroke-linecap="butt"/>
<line x1="125.40" y1="1547.38" x2="132.60" y2="1547.38" stroke="#111" stroke-width="4.80" stroke-linecap="butt"/>
<line x1="125.40" y1="1651.45" x2="132.60" y2="1651.45" stroke="#111" stroke-width="4.80" stroke-linecap="butt"/>
<line x1="125.40" y1="1755.52" x2="132.60" y2="1755.52" stroke="#111" stroke-width="4.80" stroke-linecap="butt"/>
<line x1="125.40" y1="1859.60" x2="132.60" y2="1859.60" stroke="#111" stroke-width="4.80" stroke-linecap="butt"/>
<line x1="158.20" y1="1859.60" x2="158.20" y2="1868.30" stroke="#111" stroke-width="4.80" stroke-linecap="butt"/>
<line x1="286.70" y1="1859.60" x2="286.70" y2="1868.30" stroke="#111" stroke-width="4.80" stroke-linecap="butt"/>
<line x1="415.20" y1="1859.60" x2="415.20" y2="1868.30" stroke="#111" stroke-width="4.80" stroke-linecap="butt"/>
<line x1="543.70" y1="1859.60" x2="543.70" y2="1868.30" stroke="#111" stroke-width="4.80" stroke-linecap="butt"/>
<line x1="672.20" y1="1859.60" x2="672.20" y2="1868.30" stroke="#111" stroke-width="4.80" stroke-linecap="butt"/>
<text x="60.99" y="1452.83" font-size="27.70" textLength="54.00" lengthAdjust="spacingAndGlyphs" fill="#000"><tspan>1.00</tspan></text>
<text x="60.91" y="1556.90" font-size="27.70" textLength="54.16" lengthAdjust="spacingAndGlyphs" fill="#000"><tspan>0.75</tspan></text>
<text x="60.91" y="1660.98" font-size="27.70" textLength="54.07" lengthAdjust="spacingAndGlyphs" fill="#000"><tspan>0.50</tspan></text>
<text x="60.91" y="1765.05" font-size="27.70" textLength="54.16" lengthAdjust="spacingAndGlyphs" fill="#000"><tspan>0.25</tspan></text>
<text x="99.41" y="1869.13" font-size="27.70" textLength="15.59" lengthAdjust="spacingAndGlyphs" fill="#000"><tspan>0</tspan></text>
<text x="149.57" y="1897.30" font-size="30.50" textLength="17.45" lengthAdjust="spacingAndGlyphs" fill="#000"><tspan>0</tspan></text>
<text x="277.67" y="1897.30" font-size="30.50" textLength="17.13" lengthAdjust="spacingAndGlyphs" fill="#000"><tspan>5</tspan></text>
<text x="399.72" y="1897.30" font-size="30.50" textLength="33.36" lengthAdjust="spacingAndGlyphs" fill="#000"><tspan>10</tspan></text>
<text x="527.95" y="1897.30" font-size="30.50" textLength="32.89" lengthAdjust="spacingAndGlyphs" fill="#000"><tspan>15</tspan></text>
<text x="655.33" y="1897.30" font-size="30.50" textLength="34.69" lengthAdjust="spacingAndGlyphs" fill="#000"><tspan>20</tspan></text>
<text x="389.03" y="1936.80" font-size="33.00" textLength="56.44" lengthAdjust="spacingAndGlyphs" fill="#000"><tspan>day</tspan></text>
<text transform="translate(42.60,0) rotate(-90)" x="-1804.55" y="0" font-size="36.00" textLength="310.40" lengthAdjust="spacingAndGlyphs" fill="#000"><tspan>Worker survival rate</tspan></text>
<text x="895.72" y="1396.00" font-size="35.50" textLength="150.36" lengthAdjust="spacingAndGlyphs" fill="#000"><tspan>Pathogen</tspan></text>
<text x="1116.91" y="1396.00" font-size="35.50" textLength="213.81" lengthAdjust="spacingAndGlyphs" fill="#000"><tspan font-style="italic">Streptomyces</tspan></text>
<line x1="805.30" y1="1450.40" x2="851.50" y2="1450.40" stroke="#4d4d4d" stroke-width="7.70" stroke-linecap="butt"/>
<line x1="828.60" y1="1441.50" x2="828.60" y2="1459.20" stroke="#4d4d4d" stroke-width="2.90" stroke-linecap="butt"/>
<line x1="805.30" y1="1515.60" x2="851.50" y2="1515.60" stroke="#a6972c" stroke-width="7.70" stroke-linecap="butt"/>
<line x1="828.60" y1="1506.70" x2="828.60" y2="1524.40" stroke="#a6972c" stroke-width="2.90" stroke-linecap="butt"/>
<line x1="805.30" y1="1579.20" x2="851.50" y2="1579.20" stroke="#d6398b" stroke-width="7.70" stroke-linecap="butt"/>
<line x1="828.60" y1="1570.30" x2="828.60" y2="1588.00" stroke="#d6398b" stroke-width="2.90" stroke-linecap="butt"/>
<line x1="805.30" y1="1641.10" x2="851.50" y2="1641.10" stroke="#4b7232" stroke-width="7.70" stroke-linecap="butt"/>
<line x1="828.60" y1="1632.20" x2="828.60" y2="1649.90" stroke="#4b7232" stroke-width="2.90" stroke-linecap="butt"/>
<rect x="956.70" y="1444.50" width="27.60" height="6.80" fill="#000"/>
<rect x="1207.90" y="1444.50" width="27.60" height="6.80" fill="#000"/>
<rect x="956.70" y="1507.60" width="27.60" height="6.80" fill="#000"/>
<rect x="1208.40" y="1508.30" width="26.60" height="6.60" fill="#000"/>
<rect x="1218.60" y="1498.20" width="6.20" height="26.80" fill="#000"/>
<rect x="957.20" y="1572.40" width="26.60" height="6.60" fill="#000"/>
<rect x="967.40" y="1562.30" width="6.20" height="26.80" fill="#000"/>
<rect x="1208.40" y="1572.40" width="26.60" height="6.60" fill="#000"/>
<rect x="1218.60" y="1562.30" width="6.20" height="26.80" fill="#000"/>
<rect x="957.20" y="1634.30" width="26.60" height="6.60" fill="#000"/>
<rect x="967.40" y="1624.20" width="6.20" height="26.80" fill="#000"/>
<rect x="1207.90" y="1633.80" width="27.60" height="6.80" fill="#000"/>
</svg>
</body></html>
